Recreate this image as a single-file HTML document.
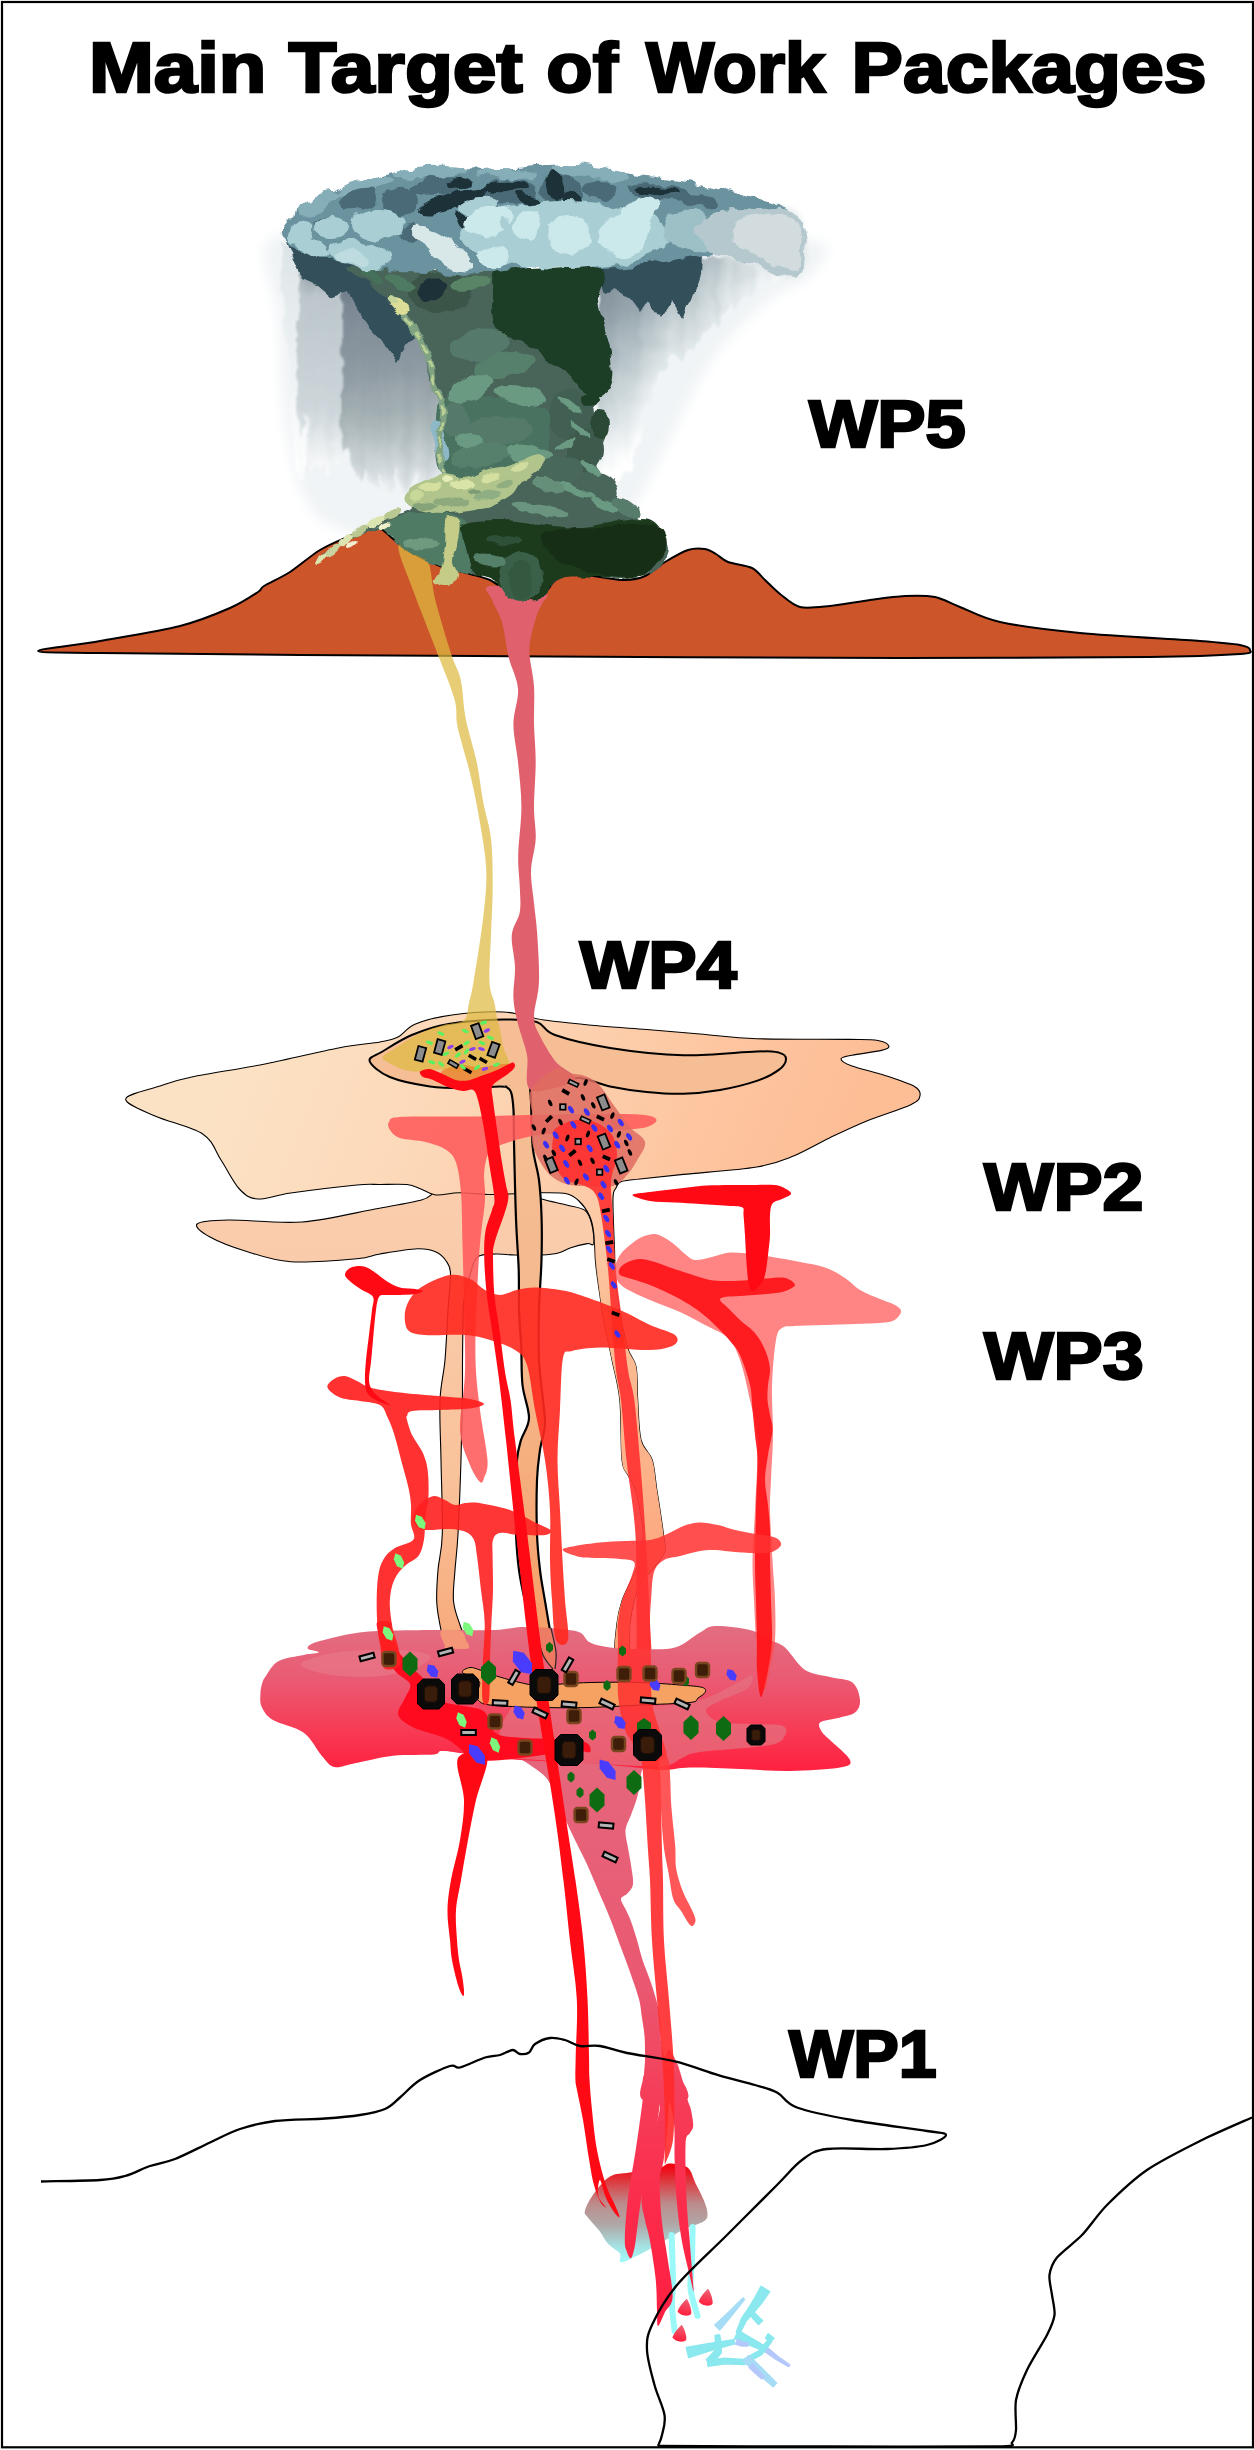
<!DOCTYPE html>
<html lang="en"><head><meta charset="utf-8"><title>Main Target of Work Packages</title>
<style>html,body{margin:0;padding:0;background:#fff}svg{display:block}</style></head>
<body><svg width="1254" height="2450" viewBox="0 0 1254 2450">
<defs>
<filter id="fRough" x="-5%" y="-5%" width="110%" height="110%"><feTurbulence type="fractalNoise" baseFrequency="0.05" numOctaves="3" seed="7" result="n"/><feDisplacementMap in="SourceGraphic" in2="n" scale="13" xChannelSelector="R" yChannelSelector="G"/></filter>
<filter id="fRough2" x="-5%" y="-5%" width="110%" height="110%"><feTurbulence type="fractalNoise" baseFrequency="0.07" numOctaves="2" seed="3" result="n"/><feDisplacementMap in="SourceGraphic" in2="n" scale="7" xChannelSelector="R" yChannelSelector="G"/></filter>
<filter id="fBlur3"><feGaussianBlur stdDeviation="3"/></filter>
<filter id="fBlur6"><feGaussianBlur stdDeviation="6"/></filter>
<filter id="fStreak" x="-10%" y="-10%" width="120%" height="120%"><feTurbulence type="fractalNoise" baseFrequency="0.09 0.004" numOctaves="2" seed="11" result="n"/><feDisplacementMap in="SourceGraphic" in2="n" scale="26" xChannelSelector="R" yChannelSelector="G" result="d1"/><feTurbulence type="fractalNoise" baseFrequency="0.03 0.05" numOctaves="2" seed="5" result="n2"/><feDisplacementMap in="d1" in2="n2" scale="12" xChannelSelector="R" yChannelSelector="G"/><feGaussianBlur stdDeviation="1"/></filter>
<linearGradient id="gVeilL" gradientUnits="userSpaceOnUse" x1="0" y1="262" x2="0" y2="500">
<stop offset="0" stop-color="#5F727E"/><stop offset="0.18" stop-color="#7C8995"/><stop offset="0.45" stop-color="#8E9AA2"/><stop offset="0.68" stop-color="#AAB6B8"/><stop offset="0.88" stop-color="#D2DADE"/><stop offset="1" stop-color="#FFFFFF"/></linearGradient>
<linearGradient id="gVeilA" gradientUnits="userSpaceOnUse" x1="0" y1="245" x2="0" y2="480">
<stop offset="0" stop-color="#DDE4E7"/><stop offset="0.5" stop-color="#EDF1F3"/><stop offset="1" stop-color="#FFFFFF"/></linearGradient>
<linearGradient id="gVeilB" gradientUnits="userSpaceOnUse" x1="0" y1="250" x2="0" y2="475">
<stop offset="0" stop-color="#7A8892"/><stop offset="0.2" stop-color="#BCC6CB"/><stop offset="0.7" stop-color="#CDD6DA"/><stop offset="1" stop-color="#FFFFFF"/></linearGradient>
<linearGradient id="gVeilR" gradientUnits="userSpaceOnUse" x1="600" y1="268" x2="708" y2="367">
<stop offset="0" stop-color="#76848F"/><stop offset="0.35" stop-color="#98A6AE"/><stop offset="0.6" stop-color="#BECACE"/><stop offset="0.85" stop-color="#E6ECEE"/><stop offset="1" stop-color="#FFFFFF"/></linearGradient>
<linearGradient id="gCapR" gradientUnits="userSpaceOnUse" x1="700" y1="0" x2="810" y2="0">
<stop offset="0" stop-color="#A4BCC3"/><stop offset="0.5" stop-color="#C6D3D6"/><stop offset="1" stop-color="#E4EAEB"/></linearGradient>
<linearGradient id="gPeach" gradientUnits="userSpaceOnUse" x1="250" y1="1020" x2="800" y2="1240">
<stop offset="0" stop-color="#FCE2C5"/><stop offset="0.35" stop-color="#FCD8B8"/><stop offset="0.75" stop-color="#FDC6A1"/><stop offset="1" stop-color="#FDBE96"/></linearGradient>
<linearGradient id="gPeach2" gradientUnits="userSpaceOnUse" x1="250" y1="1200" x2="600" y2="1280">
<stop offset="0" stop-color="#FBD6B8"/><stop offset="1" stop-color="#F9C9A4"/></linearGradient>
<linearGradient id="gPipe2" gradientUnits="userSpaceOnUse" x1="0" y1="1235" x2="0" y2="1660">
<stop offset="0" stop-color="#FBC39C" stop-opacity="0"/><stop offset="0.15" stop-color="#FBBF96"/><stop offset="0.6" stop-color="#FCB088"/><stop offset="1" stop-color="#FA9C70"/></linearGradient>
<linearGradient id="gPipeC" gradientUnits="userSpaceOnUse" x1="0" y1="1100" x2="0" y2="1620">
<stop offset="0" stop-color="#F5BE94"/><stop offset="0.5" stop-color="#F5B88C"/><stop offset="1" stop-color="#F6A06A"/></linearGradient>
<linearGradient id="gPipeE" gradientUnits="userSpaceOnUse" x1="0" y1="1200" x2="0" y2="1660">
<stop offset="0" stop-color="#FACDAC"/><stop offset="0.15" stop-color="#F9CBAA"/><stop offset="0.6" stop-color="#F9C29A"/><stop offset="1" stop-color="#F7A878"/></linearGradient>
<linearGradient id="gCh" gradientUnits="userSpaceOnUse" x1="0" y1="1630" x2="0" y2="1775">
<stop offset="0" stop-color="#E36C80"/><stop offset="0.35" stop-color="#EA5A72"/><stop offset="0.7" stop-color="#F83A55"/><stop offset="1" stop-color="#FF1E3C"/></linearGradient>
<linearGradient id="gTail" gradientUnits="userSpaceOnUse" x1="0" y1="1760" x2="0" y2="2330">
<stop offset="0" stop-color="#E5667C"/><stop offset="0.4" stop-color="#EA5870"/><stop offset="0.6" stop-color="#F63C58"/><stop offset="0.8" stop-color="#FC2A4A"/><stop offset="1" stop-color="#FF1E40"/></linearGradient>
<linearGradient id="gSrc" gradientUnits="userSpaceOnUse" x1="0" y1="2165" x2="0" y2="2262">
<stop offset="0" stop-color="#F2000C"/><stop offset="0.12" stop-color="#E42830"/><stop offset="0.4" stop-color="#BC8C8C"/><stop offset="0.62" stop-color="#B0A8A8"/><stop offset="0.85" stop-color="#A4E4E4"/><stop offset="1" stop-color="#A0F8F8"/></linearGradient>
<linearGradient id="gDrop" x1="0" y1="0" x2="0" y2="1"><stop offset="0" stop-color="#EC6478"/><stop offset="1" stop-color="#FF1E3C"/></linearGradient>
</defs>
<rect x="0" y="0" width="1254" height="2450" fill="#fff"/>
<path d="M276.0,236.0C304.7,227.7 421.0,222.7 450.0,270.0C479.0,317.3 458.3,475.8 450.0,520.0C441.7,564.2 418.3,533.3 400.0,535.0C381.7,536.7 355.8,535.8 340.0,530.0C324.2,524.2 314.3,518.3 305.0,500.0C295.7,481.7 288.5,450.0 284.0,420.0C279.5,390.0 279.3,350.7 278.0,320.0C276.7,289.3 247.3,244.3 276.0,236.0Z" fill="#F1F4F6" filter="url(#fBlur6)"/>
<path d="M596.0,262.0C630.3,218.7 774.0,237.8 810.0,240.0C846.0,242.2 818.7,265.0 812.0,275.0C805.3,285.0 785.3,287.5 770.0,300.0C754.7,312.5 733.3,333.3 720.0,350.0C706.7,366.7 700.0,381.7 690.0,400.0C680.0,418.3 670.0,441.7 660.0,460.0C650.0,478.3 639.3,503.3 630.0,510.0C620.7,516.7 609.7,541.3 604.0,500.0C598.3,458.7 561.7,305.3 596.0,262.0Z" fill="#F1F4F6" filter="url(#fBlur6)"/>
<path d="M280.0,240.0L304.0,248.0L304.0,300.0L303.0,380.0L302.0,440.0L300.0,480.0L294.0,470.0L290.0,430.0L286.0,380.0L283.0,320.0L281.0,270.0Z" fill="url(#gVeilA)" filter="url(#fStreak)"/>
<path d="M300.0,248.0L348.0,262.0L348.0,330.0L346.0,400.0L344.0,440.0L338.0,470.0L330.0,455.0L324.0,475.0L316.0,460.0L310.0,470.0L304.0,450.0L300.0,400.0L300.0,300.0Z" fill="url(#gVeilB)" filter="url(#fStreak)"/>
<path d="M344.0,260.0L400.0,270.0L446.0,275.0L446.0,330.0L442.0,400.0L446.0,470.0L440.0,492.0L430.0,485.0L422.0,500.0L412.0,480.0L404.0,498.0L396.0,470.0L388.0,495.0L380.0,470.0L372.0,488.0L364.0,465.0L356.0,480.0L350.0,460.0L344.0,440.0L344.0,350.0Z" fill="url(#gVeilL)" filter="url(#fStreak)"/>
<path d="M598.0,266.0L700.0,256.0L800.0,262.0L790.0,276.0L760.0,288.0L735.0,305.0L715.0,322.0L700.0,338.0L688.0,352.0L672.0,368.0L660.0,385.0L650.0,410.0L640.0,436.0L628.0,462.0L612.0,484.0L600.0,480.0L598.0,400.0Z" fill="url(#gVeilR)" filter="url(#fStreak)"/>
<path d="M38.0,651.0C38.0,649.2 78.7,644.8 100.0,641.0C121.3,637.2 160.5,631.0 180.0,626.0C199.5,621.0 218.3,613.1 230.0,608.0C241.7,602.9 252.9,595.3 258.0,592.0C263.1,588.7 259.2,589.0 264.0,586.0C268.8,583.0 281.6,577.4 290.0,572.0C298.4,566.6 311.0,555.4 320.0,550.0C329.0,544.6 342.5,539.1 350.0,536.0C357.5,532.9 365.5,530.2 370.0,529.0C374.5,527.8 376.7,526.6 380.0,528.0C383.3,529.4 387.5,534.4 392.0,538.0C396.5,541.6 402.8,547.8 410.0,552.0C417.2,556.2 431.0,562.7 440.0,566.0C449.0,569.3 462.5,571.9 470.0,574.0C477.5,576.1 484.8,577.6 490.0,580.0C495.2,582.4 500.2,587.3 505.0,590.0C509.8,592.7 517.4,596.5 522.0,598.0C526.6,599.5 532.4,600.9 536.0,600.0C539.6,599.1 543.0,595.0 546.0,592.0C549.0,589.0 551.6,582.7 556.0,580.0C560.4,577.3 568.4,574.5 575.0,574.0C581.6,573.5 592.5,576.1 600.0,577.0C607.5,577.9 618.2,580.1 625.0,580.0C631.8,579.9 639.0,578.7 645.0,576.0C651.0,573.3 658.5,565.9 665.0,562.0C671.5,558.1 682.0,552.0 688.0,550.0C694.0,548.0 700.8,548.4 705.0,549.0C709.2,549.6 712.5,552.0 716.0,554.0C719.5,556.0 722.6,559.9 728.0,562.0C733.4,564.1 746.5,565.3 752.0,568.0C757.5,570.7 760.8,576.1 765.0,580.0C769.2,583.9 774.8,590.0 780.0,594.0C785.2,598.0 792.5,605.2 800.0,607.0C807.5,608.8 819.5,607.0 830.0,606.0C840.5,605.0 858.8,601.5 870.0,600.0C881.2,598.5 895.2,596.5 905.0,596.0C914.8,595.5 926.8,595.4 935.0,597.0C943.2,598.6 950.2,603.2 960.0,607.0C969.8,610.8 982.0,618.1 1000.0,622.0C1018.0,625.9 1050.0,630.1 1080.0,633.0C1110.0,635.9 1176.0,639.2 1200.0,641.0C1224.0,642.8 1232.5,643.6 1240.0,645.0C1247.5,646.4 1250.0,648.6 1250.0,650.0C1250.0,651.4 1255.0,653.0 1240.0,654.0C1225.0,655.0 1201.0,656.4 1150.0,657.0C1099.0,657.6 976.5,658.0 900.0,658.0C823.5,658.0 730.0,657.5 640.0,657.0C550.0,656.5 381.0,655.6 300.0,655.0C219.0,654.4 139.3,653.6 100.0,653.0C60.7,652.4 38.0,652.8 38.0,651.0Z" fill="#CC552A" stroke="#000" stroke-width="2"/>
<path d="M197.2,1224.0C200.3,1221.2 211.0,1220.3 228.4,1220.0C245.8,1219.7 277.4,1223.8 301.8,1222.0C326.2,1220.2 355.1,1212.7 375.0,1209.0C394.9,1205.3 411.3,1202.8 421.5,1200.0C431.7,1197.2 429.8,1193.7 436.0,1192.0C442.2,1190.3 450.2,1190.3 458.8,1190.0C467.4,1189.7 478.5,1190.0 487.8,1190.0C497.1,1190.0 505.8,1188.5 514.8,1190.0C523.8,1191.5 533.1,1196.5 541.7,1199.0C550.3,1201.5 559.4,1203.1 566.6,1205.0C573.8,1206.9 580.8,1207.1 585.0,1210.4C589.2,1213.7 590.6,1219.5 592.0,1225.0C593.4,1230.5 594.4,1240.5 593.6,1243.6C592.8,1246.7 591.1,1242.9 587.3,1243.6C583.5,1244.3 575.6,1246.2 570.8,1247.8C566.0,1249.4 563.1,1251.8 558.3,1253.0C553.4,1254.2 549.0,1254.7 541.7,1255.0C534.5,1255.3 522.4,1255.2 514.8,1255.0C507.2,1254.8 502.2,1253.7 496.0,1254.0C489.8,1254.3 481.8,1253.5 477.5,1257.0C473.2,1260.5 472.2,1267.8 470.0,1275.0C467.8,1282.2 465.2,1292.5 464.0,1300.0C462.8,1307.5 463.2,1310.0 463.0,1320.0C462.8,1330.0 462.6,1346.7 462.5,1360.0C462.4,1373.3 462.6,1383.3 462.4,1400.0C462.1,1416.7 461.7,1437.7 461.0,1460.0C460.3,1482.3 459.0,1515.7 458.0,1534.0C457.0,1552.3 455.8,1558.8 455.0,1570.0C454.2,1581.2 452.7,1591.8 453.5,1601.0C454.3,1610.2 457.6,1617.7 460.0,1625.0C462.4,1632.3 466.3,1638.8 468.0,1645.0C469.7,1651.2 473.5,1659.2 470.0,1662.0C466.5,1664.8 451.2,1664.8 447.0,1662.0C442.8,1659.2 445.8,1651.2 444.6,1645.0C443.4,1638.8 441.3,1632.3 440.0,1625.0C438.7,1617.7 437.0,1610.2 436.7,1601.0C436.4,1591.8 437.1,1581.2 438.0,1570.0C438.9,1558.8 441.8,1552.3 442.3,1534.0C442.8,1515.7 441.4,1482.3 441.0,1460.0C440.6,1437.7 439.3,1416.7 440.0,1400.0C440.7,1383.3 443.7,1375.0 445.0,1360.0C446.3,1345.0 447.1,1324.4 448.0,1310.0C448.9,1295.6 450.8,1281.8 450.5,1273.7C450.2,1265.6 448.7,1264.8 446.3,1261.2C443.9,1257.6 440.8,1254.1 436.0,1252.0C431.2,1249.9 426.6,1248.5 417.3,1248.8C408.0,1249.1 390.1,1252.3 380.0,1254.0C369.9,1255.7 371.7,1257.5 356.8,1258.8C341.9,1260.1 309.2,1262.9 290.8,1261.7C272.4,1260.5 260.2,1255.6 246.7,1251.5C233.2,1247.4 218.2,1241.6 210.0,1237.0C201.8,1232.4 194.1,1226.8 197.2,1224.0Z" fill="url(#gPipeE)" stroke="#000" stroke-width="1.1"/>
<path d="M125.7,1099.0C126.5,1094.0 149.0,1089.7 160.0,1086.0C171.0,1082.3 174.2,1080.7 191.7,1077.0C209.2,1073.3 240.6,1068.8 265.0,1064.0C289.4,1059.2 319.2,1051.7 338.4,1048.0C357.6,1044.3 370.1,1043.8 380.0,1042.0C389.9,1040.2 392.1,1040.0 398.0,1037.0C403.9,1034.0 406.5,1027.7 415.5,1024.0C424.5,1020.3 437.3,1017.0 452.0,1015.0C466.7,1013.0 488.2,1011.2 503.5,1012.0C518.8,1012.8 527.9,1017.7 544.0,1020.0C560.1,1022.3 582.9,1024.4 600.0,1026.0C617.1,1027.6 630.0,1028.2 646.7,1029.5C663.4,1030.8 681.6,1032.5 700.0,1034.0C718.4,1035.5 732.0,1037.8 756.8,1038.7C781.5,1039.6 828.3,1039.1 848.5,1039.4C868.7,1039.7 871.1,1039.4 877.8,1040.5C884.5,1041.6 888.2,1044.3 888.8,1046.0C889.4,1047.7 887.6,1048.9 881.5,1050.4C875.4,1051.9 858.8,1053.8 852.0,1055.2C845.2,1056.6 841.0,1057.1 841.0,1058.9C841.0,1060.7 844.7,1063.2 852.0,1066.0C859.3,1068.8 874.6,1072.0 885.0,1075.4C895.4,1078.8 908.7,1083.1 914.5,1086.4C920.3,1089.8 920.6,1092.5 920.0,1095.5C919.4,1098.5 919.7,1100.5 910.8,1104.7C901.9,1109.0 880.3,1115.5 866.8,1121.0C853.3,1126.5 842.2,1131.9 830.0,1137.7C817.8,1143.5 805.7,1151.1 793.5,1156.0C781.3,1160.9 775.1,1163.9 756.8,1167.0C738.4,1170.1 702.9,1172.4 683.4,1174.4C663.9,1176.4 650.4,1177.8 640.0,1179.0C629.6,1180.2 625.0,1180.2 621.0,1181.7C617.0,1183.2 617.3,1185.3 616.0,1188.0C614.7,1190.7 613.3,1188.7 613.0,1198.0C612.7,1207.3 613.6,1227.8 614.3,1244.0C615.0,1260.2 614.9,1278.0 617.0,1295.0C619.1,1312.0 623.8,1334.1 627.0,1346.0C630.2,1357.9 634.2,1357.6 636.0,1366.6C637.8,1375.6 636.9,1387.8 637.7,1400.0C638.5,1412.2 638.6,1430.0 641.0,1440.0C643.4,1450.0 649.6,1451.8 652.2,1460.0C654.8,1468.2 655.4,1480.7 656.7,1489.0C658.0,1497.3 658.9,1502.5 660.0,1510.0C661.1,1517.5 662.6,1527.0 663.4,1534.0C664.1,1541.0 666.4,1546.0 664.5,1552.0C662.6,1558.0 656.1,1564.5 652.0,1569.7C647.9,1574.9 643.0,1577.8 640.0,1583.0C637.0,1588.2 635.7,1594.3 634.0,1601.0C632.3,1607.7 631.0,1613.2 630.0,1623.0C629.0,1632.8 630.5,1653.8 628.0,1660.0C625.5,1666.2 616.8,1666.2 615.0,1660.0C613.2,1653.8 615.8,1632.8 617.0,1623.0C618.2,1613.2 619.8,1607.7 622.0,1601.0C624.2,1594.3 627.0,1589.8 630.0,1583.0C633.0,1576.2 637.8,1568.2 640.0,1560.0C642.2,1551.8 643.1,1541.5 643.3,1534.0C643.5,1526.5 642.3,1522.5 641.0,1515.0C639.7,1507.5 637.6,1495.7 635.4,1489.0C633.2,1482.3 630.2,1479.8 628.0,1475.0C625.8,1470.2 623.4,1472.5 622.0,1460.0C620.6,1447.5 621.5,1416.8 619.8,1400.0C618.1,1383.2 614.4,1372.2 611.8,1359.0C609.2,1345.8 606.0,1331.5 604.0,1320.7C602.0,1309.9 601.2,1304.0 599.8,1294.4C598.4,1284.8 596.6,1273.4 595.6,1263.0C594.6,1252.6 594.6,1239.9 593.6,1232.0C592.6,1224.1 591.8,1220.8 589.4,1215.6C587.0,1210.4 582.8,1204.6 579.0,1201.0C575.2,1197.4 572.8,1195.2 566.6,1193.8C560.4,1192.4 550.3,1192.8 541.7,1192.8C533.1,1192.8 523.8,1193.5 514.8,1193.8C505.8,1194.1 497.1,1194.7 487.8,1194.5C478.5,1194.3 467.4,1192.7 458.8,1192.8C450.2,1192.9 442.3,1195.6 436.0,1195.0C429.7,1194.4 425.8,1190.8 421.0,1189.0C416.2,1187.2 413.8,1185.2 407.0,1184.5C400.2,1183.8 388.4,1184.4 380.0,1184.5C371.6,1184.6 371.7,1183.6 356.8,1185.0C341.9,1186.4 307.3,1190.7 290.8,1193.0C274.3,1195.3 266.3,1199.7 257.7,1199.0C249.1,1198.3 245.5,1195.5 239.4,1189.0C233.3,1182.5 227.1,1169.2 221.0,1160.0C214.9,1150.8 213.7,1141.3 202.7,1134.0C191.7,1126.7 167.8,1121.8 155.0,1116.0C142.2,1110.2 124.9,1104.0 125.7,1099.0Z" fill="url(#gPeach)" stroke="#000" stroke-width="1.1"/>
<path d="M614.3,1244.0C618.2,1254.5 614.9,1278.0 617.0,1295.0C619.1,1312.0 623.8,1334.1 627.0,1346.0C630.2,1357.9 634.2,1357.6 636.0,1366.6C637.8,1375.6 636.9,1387.8 637.7,1400.0C638.5,1412.2 638.6,1430.0 641.0,1440.0C643.4,1450.0 649.6,1451.8 652.2,1460.0C654.8,1468.2 655.4,1480.7 656.7,1489.0C658.0,1497.3 658.9,1502.5 660.0,1510.0C661.1,1517.5 662.6,1527.0 663.4,1534.0C664.1,1541.0 666.4,1546.0 664.5,1552.0C662.6,1558.0 656.1,1564.5 652.0,1569.7C647.9,1574.9 643.0,1577.8 640.0,1583.0C637.0,1588.2 635.7,1594.3 634.0,1601.0C632.3,1607.7 631.0,1613.2 630.0,1623.0C629.0,1632.8 630.5,1653.8 628.0,1660.0C625.5,1666.2 616.8,1666.2 615.0,1660.0C613.2,1653.8 615.8,1632.8 617.0,1623.0C618.2,1613.2 619.8,1607.7 622.0,1601.0C624.2,1594.3 627.0,1589.8 630.0,1583.0C633.0,1576.2 637.8,1568.2 640.0,1560.0C642.2,1551.8 643.1,1541.5 643.3,1534.0C643.5,1526.5 642.3,1522.5 641.0,1515.0C639.7,1507.5 637.6,1495.7 635.4,1489.0C633.2,1482.3 630.2,1479.8 628.0,1475.0C625.8,1470.2 623.4,1472.5 622.0,1460.0C620.6,1447.5 621.5,1416.8 619.8,1400.0C618.1,1383.2 614.4,1372.2 611.8,1359.0C609.2,1345.8 606.0,1331.5 604.0,1320.7C602.0,1309.9 601.2,1304.0 599.8,1294.4C598.4,1284.8 596.6,1273.4 595.6,1263.0C594.6,1252.6 590.5,1235.2 593.6,1232.0C596.7,1228.8 610.4,1233.5 614.3,1244.0Z" fill="url(#gPipe2)"/>
<path d="M369.6,1061.0C368.4,1056.8 375.5,1055.8 382.5,1051.5C389.5,1047.2 400.8,1039.6 411.8,1035.0C422.8,1030.4 433.2,1026.6 448.5,1024.0C463.8,1021.4 488.8,1019.9 503.5,1019.6C518.2,1019.3 528.1,1019.4 536.7,1022.0C545.3,1024.6 542.8,1030.7 555.0,1035.0C567.2,1039.3 588.6,1044.5 610.0,1047.9C631.4,1051.3 658.9,1054.6 683.4,1055.2C707.9,1055.8 740.9,1051.9 756.8,1051.5C772.7,1051.1 773.9,1051.4 778.8,1052.6C783.7,1053.8 786.0,1056.0 786.0,1058.9C786.0,1061.8 783.7,1066.2 778.8,1069.9C773.9,1073.6 766.6,1077.6 756.8,1080.9C747.0,1084.2 732.2,1087.9 720.0,1090.0C707.8,1092.1 695.6,1093.4 683.4,1093.7C671.2,1094.0 658.9,1093.1 646.7,1091.9C634.5,1090.7 621.1,1088.7 610.0,1086.4C598.9,1084.1 588.3,1078.7 580.0,1078.0C571.7,1077.3 566.7,1080.0 560.0,1082.0C553.3,1084.0 546.7,1089.0 540.0,1090.0C533.3,1091.0 526.7,1088.6 520.0,1088.0C513.3,1087.4 508.9,1086.4 500.0,1086.4C491.1,1086.4 478.5,1088.0 466.8,1088.0C455.1,1088.0 442.8,1088.2 430.0,1086.4C417.2,1084.6 399.9,1081.2 389.8,1077.0C379.7,1072.8 370.8,1065.2 369.6,1061.0Z" fill="#F5BE94" stroke="#000" stroke-width="2"/>
<path d="M505.0,1086.0C501.8,1086.7 509.6,1088.0 511.0,1092.0C512.4,1096.0 513.0,1101.7 513.5,1110.0C514.0,1118.3 513.6,1123.9 514.0,1142.0C514.4,1160.1 515.2,1197.3 516.0,1218.6C516.8,1239.9 518.2,1254.4 518.7,1269.6C519.2,1284.8 518.6,1297.3 519.0,1310.0C519.4,1322.7 520.6,1333.5 521.2,1346.0C521.8,1358.5 521.2,1373.0 522.5,1385.0C523.8,1397.0 529.2,1408.8 529.0,1418.0C528.8,1427.2 523.0,1433.0 521.0,1440.0C519.0,1447.0 517.8,1450.0 517.0,1460.0C516.2,1470.0 516.2,1487.7 516.0,1500.0C515.8,1512.3 515.5,1522.3 516.0,1534.0C516.5,1545.7 517.5,1558.8 519.0,1570.0C520.5,1581.2 522.7,1591.0 525.0,1601.0C527.3,1611.0 530.0,1621.0 533.0,1630.0C536.0,1639.0 539.8,1648.7 543.0,1655.0C546.2,1661.3 550.2,1665.8 552.0,1668.0C553.8,1670.2 553.5,1670.2 554.0,1668.0C554.5,1665.8 555.7,1661.3 555.0,1655.0C554.3,1648.7 551.7,1639.0 550.0,1630.0C548.3,1621.0 546.7,1611.0 545.0,1601.0C543.3,1591.0 541.3,1581.2 540.0,1570.0C538.7,1558.8 537.5,1549.0 537.0,1534.0C536.5,1519.0 536.5,1494.0 537.0,1480.0C537.5,1466.0 538.7,1459.2 540.0,1450.0C541.3,1440.8 544.5,1433.3 545.0,1425.0C545.5,1416.7 544.0,1410.8 543.0,1400.0C542.0,1389.2 539.7,1375.0 539.0,1360.0C538.3,1345.0 538.6,1326.7 539.0,1310.0C539.4,1293.3 541.1,1275.2 541.5,1260.0C541.9,1244.8 542.0,1231.9 541.6,1218.6C541.2,1205.3 540.5,1191.9 539.0,1180.0C537.5,1168.1 534.0,1160.2 532.7,1147.0C531.4,1133.8 531.5,1110.8 531.0,1101.0C530.5,1091.2 534.3,1090.5 530.0,1088.0C525.7,1085.5 508.2,1085.3 505.0,1086.0Z" fill="url(#gPipeC)"/>
<path d="M505.0,1086.0C506.0,1087.0 509.6,1088.0 511.0,1092.0C512.4,1096.0 513.0,1101.7 513.5,1110.0C514.0,1118.3 513.6,1123.9 514.0,1142.0C514.4,1160.1 515.2,1197.3 516.0,1218.6C516.8,1239.9 518.2,1254.4 518.7,1269.6C519.2,1284.8 518.6,1297.3 519.0,1310.0C519.4,1322.7 520.6,1333.5 521.2,1346.0C521.8,1358.5 521.2,1373.0 522.5,1385.0C523.8,1397.0 529.2,1408.8 529.0,1418.0C528.8,1427.2 523.0,1433.0 521.0,1440.0C519.0,1447.0 517.8,1450.0 517.0,1460.0C516.2,1470.0 516.2,1487.7 516.0,1500.0C515.8,1512.3 515.5,1522.3 516.0,1534.0C516.5,1545.7 517.5,1558.8 519.0,1570.0C520.5,1581.2 522.7,1591.0 525.0,1601.0C527.3,1611.0 530.0,1621.0 533.0,1630.0C536.0,1639.0 539.8,1648.7 543.0,1655.0C546.2,1661.3 550.5,1665.8 552.0,1668.0" fill="none" stroke="#000" stroke-width="2.2"/>
<path d="M530.0,1088.0C530.2,1090.2 530.5,1091.2 531.0,1101.0C531.5,1110.8 531.4,1133.8 532.7,1147.0C534.0,1160.2 537.5,1168.1 539.0,1180.0C540.5,1191.9 541.2,1205.3 541.6,1218.6C542.0,1231.9 541.9,1244.8 541.5,1260.0C541.1,1275.2 539.4,1293.3 539.0,1310.0C538.6,1326.7 538.3,1345.0 539.0,1360.0C539.7,1375.0 542.0,1389.2 543.0,1400.0C544.0,1410.8 545.5,1416.7 545.0,1425.0C544.5,1433.3 541.3,1440.8 540.0,1450.0C538.7,1459.2 537.5,1466.0 537.0,1480.0C536.5,1494.0 536.5,1519.0 537.0,1534.0C537.5,1549.0 538.7,1558.8 540.0,1570.0C541.3,1581.2 543.3,1591.0 545.0,1601.0C546.7,1611.0 548.3,1621.0 550.0,1630.0C551.7,1639.0 554.3,1648.7 555.0,1655.0C555.7,1661.3 554.2,1665.8 554.0,1668.0" fill="none" stroke="#000" stroke-width="2.2"/>
<path d="M400.0,1117.0C412.5,1116.1 442.5,1116.8 463.8,1116.5C485.1,1116.2 504.2,1115.4 527.6,1115.0C551.0,1114.6 584.4,1114.0 604.0,1114.0C623.6,1114.0 636.3,1113.9 645.0,1115.0C653.7,1116.1 656.8,1118.2 656.4,1120.4C656.0,1122.6 651.1,1126.3 642.4,1128.0C633.7,1129.7 617.7,1129.8 604.0,1130.6C590.3,1131.4 572.7,1131.9 560.0,1133.0C547.3,1134.1 537.3,1135.1 527.6,1137.0C517.9,1138.9 508.4,1142.1 502.0,1144.6C495.6,1147.1 492.3,1147.3 489.3,1152.0C486.3,1156.7 484.9,1164.7 484.2,1172.7C483.5,1180.7 485.7,1188.1 485.0,1200.0C484.3,1211.9 481.3,1228.2 480.0,1244.0C478.7,1259.8 477.8,1275.7 477.0,1295.0C476.2,1314.3 475.0,1340.8 475.5,1360.0C476.0,1379.2 478.0,1393.3 480.0,1410.0C482.0,1426.7 486.8,1448.7 487.5,1460.0C488.2,1471.3 485.2,1474.3 484.0,1478.0C482.8,1481.7 482.3,1484.2 480.0,1482.0C477.7,1479.8 473.3,1473.7 470.0,1465.0C466.7,1456.3 460.8,1445.5 460.0,1430.0C459.2,1414.5 464.4,1394.5 465.0,1372.0C465.6,1349.5 464.2,1316.3 463.8,1295.0C463.4,1273.7 463.0,1261.0 462.5,1244.0C462.0,1227.0 462.1,1206.6 461.0,1193.0C459.9,1179.4 458.5,1169.7 456.0,1162.5C453.5,1155.3 451.1,1153.1 446.0,1149.7C440.9,1146.3 433.2,1144.0 425.5,1142.0C417.8,1140.0 405.9,1140.0 400.0,1138.0C394.1,1136.0 391.8,1132.7 390.0,1130.0C388.2,1127.3 387.3,1124.2 389.0,1122.0C390.7,1119.8 387.5,1117.9 400.0,1117.0Z" fill="#FF5A5A" opacity="0.88"/>
<path d="M398.6,545.0C396.5,550.8 406.9,572.8 413.0,590.0C419.1,607.2 428.4,629.8 435.3,648.0C442.2,666.2 450.7,685.8 454.4,699.0C458.1,712.2 454.9,714.3 457.6,727.0C460.3,739.7 466.7,759.0 470.4,775.0C474.1,791.0 477.4,807.0 480.0,823.0C482.6,839.0 485.8,855.0 486.3,871.0C486.8,887.0 485.1,900.5 483.0,919.0C480.9,937.5 475.8,968.0 473.5,982.0C471.2,996.0 470.6,996.6 469.0,1003.0C467.4,1009.4 468.2,1016.6 464.0,1020.3C459.8,1024.0 451.1,1022.9 443.7,1025.1C436.3,1027.3 427.8,1029.7 419.8,1033.5C411.8,1037.3 402.1,1043.9 395.9,1047.8C389.7,1051.7 383.9,1054.4 382.7,1056.9C381.5,1059.4 385.3,1060.6 388.7,1062.7C392.1,1064.8 397.9,1067.9 403.1,1069.4C408.3,1070.9 413.8,1071.8 419.8,1071.8C425.8,1071.8 432.9,1069.4 438.9,1069.4C444.9,1069.4 449.7,1071.4 455.7,1071.8C461.7,1072.2 468.4,1073.1 474.8,1071.8C481.2,1070.5 489.2,1065.0 494.0,1064.1C498.8,1063.2 500.9,1066.6 503.5,1066.5C506.1,1066.4 509.5,1066.5 509.5,1063.4C509.5,1060.3 505.1,1053.6 503.5,1047.8C501.9,1042.0 501.0,1033.7 499.9,1028.7C498.8,1023.7 497.9,1022.3 497.0,1018.0C496.1,1013.7 495.8,1009.0 494.5,1003.0C493.2,997.0 490.1,993.3 489.5,982.0C488.9,970.7 490.5,950.8 491.0,935.0C491.5,919.2 492.7,903.0 492.7,887.0C492.7,871.0 492.6,853.3 491.0,839.0C489.4,824.7 485.4,813.8 483.0,801.0C480.6,788.2 479.6,775.8 476.7,762.0C473.8,748.2 468.2,731.7 465.6,718.0C463.0,704.3 463.2,690.7 460.8,680.0C458.4,669.3 455.4,667.3 451.2,654.0C446.9,640.7 439.6,616.5 435.3,600.0C431.1,583.5 431.8,564.2 425.7,555.0C419.6,545.8 400.7,539.2 398.6,545.0Z" fill="#DEBA41" opacity="0.72"/>
<path d="M441.3,1071.8C442.5,1070.0 447.7,1068.2 450.9,1067.0C454.1,1065.8 455.7,1064.5 460.5,1064.6C465.3,1064.7 474.0,1067.4 479.6,1067.5C485.2,1067.6 489.2,1065.7 494.0,1065.1C498.8,1064.5 506.7,1063.0 508.3,1064.1C509.9,1065.2 505.9,1069.6 503.5,1071.8C501.1,1074.0 498.8,1075.3 494.0,1077.0C489.2,1078.7 481.2,1081.0 474.8,1081.8C468.4,1082.6 460.9,1082.5 455.7,1081.8C450.5,1081.1 446.1,1079.5 443.7,1077.8C441.3,1076.1 440.1,1073.6 441.3,1071.8Z" fill="#E8842E" opacity="0.8"/>
<path d="M489.5,586.0C480.9,587.3 489.9,594.0 492.0,600.0C494.1,606.0 499.2,612.5 502.0,622.0C504.8,631.5 505.9,645.8 508.6,657.0C511.3,668.2 517.2,677.8 518.0,689.0C518.8,700.2 513.4,711.8 513.4,724.0C513.4,736.2 516.7,748.2 518.0,762.0C519.3,775.8 521.4,791.5 521.4,807.0C521.4,822.5 518.5,841.7 518.2,855.0C517.9,868.3 519.5,877.5 519.8,887.0C520.1,896.5 521.1,904.0 519.8,912.0C518.5,920.0 512.6,925.8 511.8,935.0C511.0,944.2 514.7,956.5 515.0,967.0C515.3,977.5 512.9,988.5 513.4,998.0C513.9,1007.5 515.7,1014.5 518.0,1024.0C520.3,1033.5 524.8,1044.0 527.0,1055.0C529.2,1066.0 523.0,1085.8 531.0,1090.0C539.0,1094.2 570.8,1084.7 575.0,1080.0C579.2,1075.3 561.8,1069.2 556.0,1062.0C550.2,1054.8 544.2,1044.5 540.5,1037.0C536.8,1029.5 534.2,1026.2 534.0,1017.0C533.8,1007.8 538.5,995.7 539.0,982.0C539.5,968.3 538.1,948.2 537.3,935.0C536.5,921.8 535.0,913.7 534.0,903.0C533.0,892.3 530.7,881.7 531.0,871.0C531.3,860.3 535.2,849.7 535.7,839.0C536.2,828.3 534.0,819.8 534.0,807.0C534.0,794.2 535.7,775.8 535.7,762.0C535.7,748.2 534.3,736.7 534.0,724.0C533.7,711.3 534.8,698.7 534.0,686.0C533.2,673.3 528.9,659.8 529.4,648.0C529.9,636.2 534.9,622.3 537.0,615.0C539.1,607.7 540.9,607.8 542.0,604.0C543.1,600.2 552.5,595.0 543.7,592.0C535.0,589.0 498.1,584.7 489.5,586.0Z" fill="#E0606E"/>
<path d="M531.0,1090.0C527.1,1098.1 532.6,1109.1 532.7,1116.5C532.8,1123.9 531.0,1128.5 531.4,1134.4C531.8,1140.3 532.2,1145.6 535.0,1152.0C537.8,1158.4 542.9,1167.4 548.0,1172.7C553.1,1178.0 558.2,1181.7 565.9,1184.0C573.6,1186.3 585.9,1186.3 594.0,1186.5C602.1,1186.7 608.8,1187.3 614.3,1185.4C619.8,1183.5 623.2,1179.2 627.0,1175.0C630.8,1170.8 634.3,1165.5 637.3,1160.0C640.3,1154.5 646.3,1147.5 645.0,1142.0C643.7,1136.5 634.8,1132.8 629.7,1126.8C624.6,1120.8 619.4,1113.0 614.3,1106.0C609.2,1099.0 603.9,1089.7 599.0,1084.7C594.1,1079.7 590.1,1078.0 585.0,1076.0C579.9,1074.0 573.2,1074.3 568.4,1073.0C563.6,1071.7 562.2,1065.2 556.0,1068.0C549.8,1070.8 534.9,1081.9 531.0,1090.0Z" fill="#DE6C60" opacity="0.85"/>
<path d="M553.0,1138.0C553.5,1133.2 552.6,1130.9 556.0,1128.0C559.4,1125.1 567.2,1121.5 573.5,1120.4C579.8,1119.4 587.6,1119.4 594.0,1121.7C600.4,1124.0 608.0,1128.9 611.8,1134.4C615.6,1140.0 617.0,1148.2 617.0,1155.0C617.0,1161.8 613.0,1169.2 612.0,1175.0C611.0,1180.8 610.8,1182.8 611.0,1190.0C611.2,1197.2 612.2,1204.8 613.0,1218.0C613.8,1231.2 614.1,1252.0 615.6,1269.0C617.1,1286.0 619.9,1303.2 622.0,1320.0C624.1,1336.8 626.0,1356.7 628.0,1370.0C630.0,1383.3 632.3,1385.0 634.3,1400.0C636.3,1415.0 638.1,1437.7 640.0,1460.0C641.9,1482.3 643.8,1506.8 645.5,1534.0C647.2,1561.2 648.9,1597.0 650.0,1623.0C651.1,1649.0 654.0,1678.8 652.0,1690.0C650.0,1701.2 640.6,1701.2 638.0,1690.0C635.4,1678.8 637.0,1649.0 636.6,1623.0C636.2,1597.0 637.1,1561.2 635.4,1534.0C633.7,1506.8 628.9,1482.3 626.5,1460.0C624.1,1437.7 622.8,1415.0 621.0,1400.0C619.2,1385.0 617.5,1383.2 616.0,1370.0C614.5,1356.8 613.1,1337.5 611.8,1320.7C610.5,1303.9 609.7,1286.1 608.0,1269.0C606.3,1251.9 603.6,1230.3 601.6,1218.0C599.6,1205.7 598.8,1200.3 596.0,1195.0C593.2,1189.7 590.5,1188.8 585.0,1186.0C579.5,1183.2 568.3,1182.8 563.0,1178.0C557.7,1173.2 554.7,1163.7 553.0,1157.0C551.3,1150.3 552.5,1142.8 553.0,1138.0Z" fill="#FF3030" opacity="0.9"/>
<path d="M505.0,1752.0C479.4,1752.6 510.2,1753.5 514.4,1755.7C518.6,1757.9 524.6,1761.2 530.0,1765.0C535.4,1768.8 542.7,1773.4 547.0,1778.7C551.3,1784.0 553.1,1790.6 556.0,1797.0C558.9,1803.4 561.0,1809.8 564.2,1817.0C567.4,1824.2 571.2,1832.0 575.0,1840.0C578.8,1848.0 583.4,1856.5 587.2,1864.8C591.0,1873.1 594.2,1881.1 598.0,1890.0C601.8,1898.9 606.4,1909.2 610.1,1918.4C613.8,1927.6 616.8,1936.4 620.0,1945.0C623.2,1953.6 626.1,1961.0 629.3,1970.0C632.4,1979.0 636.8,1990.8 638.9,1998.8C641.0,2006.8 641.0,2011.6 642.0,2018.0C643.0,2024.4 644.1,2030.0 644.6,2037.0C645.1,2044.0 645.1,2053.7 645.0,2060.0C644.9,2066.3 644.3,2068.3 644.0,2075.0C643.7,2081.7 636.0,2095.8 643.0,2100.0C650.0,2104.2 679.5,2103.3 686.0,2100.0C692.5,2096.7 684.4,2085.0 682.0,2080.0C679.6,2075.0 674.8,2075.6 671.4,2070.0C668.0,2064.4 663.7,2055.4 661.8,2046.7C659.9,2038.0 661.0,2026.0 660.0,2018.0C659.0,2010.0 657.7,2005.3 656.0,1999.0C654.3,1992.7 652.2,1986.4 650.0,1980.0C647.8,1973.6 644.9,1967.2 642.7,1960.5C640.5,1953.8 638.9,1946.4 637.0,1940.0C635.1,1933.6 633.0,1927.0 631.2,1922.0C629.4,1917.0 627.7,1913.8 626.0,1910.0C624.3,1906.2 620.8,1901.8 621.0,1899.0C621.2,1896.2 625.4,1896.0 627.4,1893.5C629.4,1891.0 632.4,1888.8 633.0,1884.0C633.6,1879.2 631.8,1871.0 631.0,1865.0C630.2,1859.0 628.9,1853.8 628.0,1848.0C627.1,1842.2 625.0,1835.5 625.5,1830.0C626.0,1824.5 629.1,1820.3 631.0,1815.0C632.9,1809.7 635.5,1803.2 637.0,1798.0C638.5,1792.8 639.0,1788.8 640.0,1784.0C641.0,1779.2 640.2,1772.7 642.7,1769.0C645.2,1765.3 650.8,1764.8 655.0,1762.0C659.2,1759.2 693.0,1753.7 668.0,1752.0C643.0,1750.3 530.6,1751.4 505.0,1752.0Z" fill="url(#gTail)"/>
<path d="M260.4,1694.4C260.4,1690.6 261.1,1687.0 262.0,1684.0C262.9,1681.0 262.8,1680.3 265.5,1676.5C268.2,1672.7 271.9,1664.8 278.3,1661.2C284.7,1657.6 297.0,1656.4 303.8,1654.9C310.6,1653.4 318.4,1653.4 319.0,1652.3C319.6,1651.2 308.0,1650.2 307.6,1648.5C307.2,1646.8 308.6,1644.5 316.5,1642.0C324.4,1639.5 342.1,1635.1 354.8,1633.2C367.6,1631.3 378.1,1631.1 393.0,1630.6C407.9,1630.1 427.0,1630.1 444.0,1630.0C461.0,1629.9 482.2,1630.5 495.0,1630.0C507.8,1629.5 512.4,1627.3 520.7,1627.0C529.0,1626.7 538.5,1627.7 545.0,1628.0C551.5,1628.3 554.2,1628.2 560.0,1629.0C565.8,1629.8 575.0,1630.2 580.0,1632.5C585.0,1634.8 585.0,1640.0 590.0,1642.5C595.0,1645.0 601.7,1646.4 610.0,1647.5C618.3,1648.6 629.2,1649.0 640.0,1649.0C650.8,1649.0 665.0,1650.2 675.0,1647.5C685.0,1644.8 693.3,1636.1 700.0,1632.5C706.7,1628.9 706.7,1626.4 715.0,1626.0C723.3,1625.6 740.8,1627.7 750.0,1630.0C759.2,1632.3 764.2,1637.1 770.0,1640.0C775.8,1642.9 779.2,1642.5 785.0,1647.5C790.8,1652.5 797.5,1665.1 805.0,1670.0C812.5,1674.9 822.1,1674.9 830.0,1677.0C837.9,1679.1 847.5,1678.7 852.5,1682.5C857.5,1686.3 859.6,1695.0 860.0,1700.0C860.4,1705.0 858.7,1709.5 855.0,1712.5C851.3,1715.5 843.8,1716.3 838.0,1718.0C832.2,1719.7 822.7,1720.2 820.0,1722.5C817.3,1724.8 820.3,1729.1 822.0,1732.0C823.7,1734.9 825.3,1735.3 830.0,1740.0C834.7,1744.7 848.3,1755.4 850.0,1760.0C851.7,1764.6 850.0,1765.7 840.0,1767.5C830.0,1769.3 806.7,1770.8 790.0,1771.0C773.3,1771.2 756.7,1769.6 740.0,1769.0C723.3,1768.4 702.5,1767.3 690.0,1767.5C677.5,1767.7 673.3,1769.9 665.0,1770.0C656.7,1770.1 650.8,1769.0 640.0,1768.0C629.2,1767.0 613.3,1765.0 600.0,1764.0C586.7,1763.0 573.3,1762.7 560.0,1762.0C546.7,1761.3 531.7,1760.8 520.0,1760.0C508.3,1759.2 502.7,1759.0 490.0,1757.5C477.3,1756.0 453.3,1751.5 444.0,1751.0C434.7,1750.5 442.5,1753.6 434.0,1754.4C425.5,1755.2 406.2,1754.2 393.0,1755.7C379.8,1757.2 364.6,1761.4 354.8,1763.3C345.0,1765.2 339.9,1768.3 334.4,1767.0C328.9,1765.7 326.8,1761.4 321.7,1755.7C316.6,1750.0 311.9,1738.7 303.8,1732.7C295.7,1726.8 280.0,1724.3 273.0,1720.0C266.0,1715.7 263.8,1711.3 261.7,1707.0C259.6,1702.7 260.3,1698.2 260.4,1694.4Z" fill="url(#gCh)"/>
<path d="M520.0,1700.0C530.0,1693.3 546.7,1690.0 560.0,1690.0C573.3,1690.0 585.0,1697.3 600.0,1700.0C615.0,1702.7 633.3,1706.0 650.0,1706.0C666.7,1706.0 685.8,1703.7 700.0,1700.0C714.2,1696.3 726.3,1688.2 735.0,1684.0C743.7,1679.8 749.8,1674.3 752.0,1675.0C754.2,1675.7 753.0,1683.8 748.0,1688.0C743.0,1692.2 729.0,1696.3 722.0,1700.0C715.0,1703.7 706.3,1706.3 706.0,1710.0C705.7,1713.7 711.0,1719.7 720.0,1722.0C729.0,1724.3 749.5,1723.3 760.0,1724.0C770.5,1724.7 778.8,1724.2 783.0,1726.0C787.2,1727.8 787.2,1731.8 785.0,1735.0C782.8,1738.2 784.2,1742.2 770.0,1745.0C755.8,1747.8 714.7,1749.8 700.0,1752.0C685.3,1754.2 688.3,1755.7 682.0,1758.0C675.7,1760.3 675.7,1765.0 662.0,1766.0C648.3,1767.0 620.3,1765.0 600.0,1764.0C579.7,1763.0 555.8,1761.5 540.0,1760.0C524.2,1758.5 511.7,1760.0 505.0,1755.0C498.3,1750.0 497.5,1739.2 500.0,1730.0C502.5,1720.8 510.0,1706.7 520.0,1700.0Z" fill="#E4707F" opacity="0.75"/>
<path d="M303.0,1662.0C308.0,1659.0 323.8,1654.0 340.0,1652.0C356.2,1650.0 385.0,1649.3 400.0,1650.0C415.0,1650.7 427.5,1653.0 430.0,1656.0C432.5,1659.0 423.3,1664.7 415.0,1668.0C406.7,1671.3 392.5,1674.7 380.0,1676.0C367.5,1677.3 351.7,1677.0 340.0,1676.0C328.3,1675.0 316.2,1672.3 310.0,1670.0C303.8,1667.7 298.0,1665.0 303.0,1662.0Z" fill="#E87C8B" opacity="0.6"/>
<path d="M441.0,1631.0C438.3,1633.3 443.8,1642.2 444.6,1645.0C445.4,1647.8 442.1,1647.4 446.0,1648.0C449.9,1648.6 464.7,1649.8 468.0,1648.5C471.3,1647.2 467.2,1642.9 466.0,1640.0C464.8,1637.1 465.2,1632.5 461.0,1631.0C456.8,1629.5 443.7,1628.7 441.0,1631.0Z" fill="#F7A276" opacity="0.8"/>
<path d="M536.0,1630.0C534.7,1634.2 540.3,1648.7 543.0,1655.0C545.7,1661.3 550.0,1665.8 552.0,1668.0C554.0,1670.2 554.3,1670.2 555.0,1668.0C555.7,1665.8 556.7,1661.3 556.0,1655.0C555.3,1648.7 554.3,1634.2 551.0,1630.0C547.7,1625.8 537.3,1625.8 536.0,1630.0Z" fill="#F58A50" opacity="0.55"/>
<path d="M535.0,1628.0C536.3,1632.5 540.0,1648.2 543.0,1655.0C546.0,1661.8 551.3,1666.7 553.0,1669.0" fill="none" stroke="#1a1a1a" stroke-width="1.3" opacity="0.85"/>
<path d="M551.0,1628.0C551.8,1632.0 555.3,1645.2 556.0,1652.0C556.7,1658.8 555.2,1666.2 555.0,1669.0" fill="none" stroke="#1a1a1a" stroke-width="1.3" opacity="0.85"/>
<path d="M377.8,1622.0C375.7,1623.4 376.9,1625.8 377.8,1630.6C378.7,1635.4 380.0,1644.2 383.0,1651.0C386.0,1657.8 391.1,1665.9 395.6,1671.4C400.1,1676.9 408.4,1679.6 410.0,1684.0C411.6,1688.4 407.0,1692.9 405.0,1698.0C403.0,1703.1 396.8,1709.9 398.2,1714.8C399.6,1719.7 405.9,1723.8 413.5,1727.6C421.1,1731.4 436.4,1734.4 444.0,1737.8C451.6,1741.2 455.1,1744.6 459.4,1748.0C463.7,1751.4 464.9,1755.9 470.0,1758.0C475.1,1760.1 481.6,1760.7 490.0,1760.7C498.4,1760.7 509.6,1759.3 520.7,1758.0C531.8,1756.7 547.4,1754.3 556.4,1753.0C565.4,1751.7 569.4,1750.2 575.0,1750.0C580.6,1749.8 588.3,1753.3 590.0,1752.0C591.7,1750.7 590.6,1744.2 585.0,1742.0C579.4,1739.8 567.1,1739.7 556.4,1739.0C545.7,1738.3 530.9,1738.8 520.7,1737.8C510.5,1736.8 500.9,1737.0 495.0,1732.7C489.1,1728.5 489.2,1716.6 485.0,1712.3C480.8,1708.0 476.4,1708.7 469.6,1707.0C462.8,1705.3 450.6,1704.8 444.0,1702.0C437.4,1699.2 433.4,1693.8 430.0,1690.0C426.6,1686.2 426.4,1682.5 423.7,1679.0C420.9,1675.5 417.8,1673.7 413.5,1669.0C409.2,1664.3 401.8,1657.4 398.2,1651.0C394.6,1644.6 393.1,1635.4 391.8,1630.6C390.5,1625.8 392.8,1623.4 390.5,1622.0C388.2,1620.6 379.9,1620.6 377.8,1622.0Z" fill="#FF0A1E"/>
<path d="M458.0,1758.0C454.2,1765.3 463.7,1786.3 464.0,1800.0C464.3,1813.7 462.2,1826.7 460.0,1840.0C457.8,1853.3 453.1,1868.3 451.0,1880.0C448.9,1891.7 447.7,1900.0 447.5,1910.0C447.3,1920.0 449.2,1931.7 450.0,1940.0C450.8,1948.3 450.7,1952.5 452.0,1960.0C453.3,1967.5 456.2,1979.0 458.0,1985.0C459.8,1991.0 462.0,1995.2 463.0,1996.0C464.0,1996.8 464.2,1993.5 464.0,1990.0C463.8,1986.5 462.8,1980.0 462.0,1975.0C461.2,1970.0 459.8,1965.8 459.0,1960.0C458.2,1954.2 457.5,1948.3 457.0,1940.0C456.5,1931.7 455.3,1920.0 456.0,1910.0C456.7,1900.0 459.0,1891.7 461.0,1880.0C463.0,1868.3 465.5,1853.3 468.0,1840.0C470.5,1826.7 472.8,1814.0 476.0,1800.0C479.2,1786.0 490.0,1763.0 487.0,1756.0C484.0,1749.0 461.8,1750.7 458.0,1758.0Z" fill="#FF0A14"/>
<path d="M462.5,1672.5C461.2,1670.4 467.1,1667.9 470.0,1667.5C472.9,1667.1 476.7,1668.9 480.0,1670.0C483.3,1671.1 483.3,1671.9 490.0,1674.0C496.7,1676.1 511.7,1680.7 520.0,1682.5C528.3,1684.3 528.3,1685.0 540.0,1685.0C551.7,1685.0 573.3,1682.9 590.0,1682.5C606.7,1682.1 625.0,1682.1 640.0,1682.5C655.0,1682.9 669.6,1684.2 680.0,1685.0C690.4,1685.8 698.3,1686.2 702.5,1687.5C706.7,1688.8 705.8,1690.8 705.0,1692.5C704.2,1694.2 700.5,1696.3 698.0,1698.0C695.5,1699.7 699.7,1701.3 690.0,1702.5C680.3,1703.7 656.7,1704.2 640.0,1705.0C623.3,1705.8 606.7,1707.1 590.0,1707.5C573.3,1707.9 556.7,1707.9 540.0,1707.5C523.3,1707.1 500.3,1706.2 490.0,1705.0C479.7,1703.8 480.5,1701.7 478.0,1700.0C475.5,1698.3 474.8,1697.2 475.0,1695.0C475.2,1692.8 478.5,1689.5 479.0,1687.0C479.5,1684.5 480.8,1682.4 478.0,1680.0C475.2,1677.6 463.8,1674.6 462.5,1672.5Z" fill="#F5A262" stroke="#000" stroke-width="1"/>
<path d="M615.0,1267.5C615.7,1263.7 617.5,1258.8 620.0,1255.0C622.5,1251.2 626.3,1248.0 630.0,1245.0C633.7,1242.0 637.8,1238.8 642.0,1237.0C646.2,1235.2 651.2,1233.8 655.0,1234.0C658.8,1234.2 661.7,1236.2 665.0,1238.0C668.3,1239.8 671.7,1242.3 675.0,1245.0C678.3,1247.7 681.7,1251.5 685.0,1254.0C688.3,1256.5 690.5,1259.5 695.0,1260.0C699.5,1260.5 706.2,1258.2 712.0,1257.0C717.8,1255.8 723.3,1253.0 730.0,1252.5C736.7,1252.0 744.5,1253.2 752.0,1254.0C759.5,1254.8 767.0,1256.2 775.0,1257.5C783.0,1258.8 791.7,1260.3 800.0,1262.0C808.3,1263.7 817.5,1264.8 825.0,1267.5C832.5,1270.2 839.2,1274.2 845.0,1278.0C850.8,1281.8 854.2,1286.5 860.0,1290.0C865.8,1293.5 874.2,1296.5 880.0,1299.0C885.8,1301.5 891.5,1303.0 895.0,1305.0C898.5,1307.0 900.8,1308.7 901.0,1311.0C901.2,1313.3 898.7,1317.1 896.0,1319.0C893.3,1320.9 891.8,1321.7 885.0,1322.5C878.2,1323.3 865.0,1323.6 855.0,1324.0C845.0,1324.4 835.0,1324.7 825.0,1325.0C815.0,1325.3 802.2,1325.5 795.0,1326.0C787.8,1326.5 785.2,1325.7 782.0,1328.0C778.8,1330.3 777.7,1330.5 776.0,1340.0C774.3,1349.5 772.5,1369.2 772.0,1385.0C771.5,1400.8 773.2,1419.2 773.0,1435.0C772.8,1450.8 771.5,1467.5 771.0,1480.0C770.5,1492.5 769.8,1496.7 770.0,1510.0C770.2,1523.3 771.7,1545.0 772.5,1560.0C773.3,1575.0 774.6,1586.7 775.0,1600.0C775.4,1613.3 775.8,1628.7 775.0,1640.0C774.2,1651.3 771.8,1659.7 770.0,1668.0C768.2,1676.3 766.0,1691.3 764.0,1690.0C762.0,1688.7 759.3,1668.3 758.0,1660.0C756.7,1651.7 756.7,1650.0 756.0,1640.0C755.3,1630.0 754.6,1613.3 754.0,1600.0C753.4,1586.7 752.3,1575.0 752.5,1560.0C752.7,1545.0 754.2,1530.0 755.0,1510.0C755.8,1490.0 758.3,1458.3 757.5,1440.0C756.7,1421.7 752.9,1413.3 750.0,1400.0C747.1,1386.7 743.7,1370.3 740.0,1360.0C736.3,1349.7 733.8,1343.8 728.0,1338.0C722.2,1332.2 713.0,1329.3 705.0,1325.0C697.0,1320.7 689.2,1316.2 680.0,1312.0C670.8,1307.8 659.2,1304.0 650.0,1300.0C640.8,1296.0 630.7,1291.7 625.0,1288.0C619.3,1284.3 617.7,1281.4 616.0,1278.0C614.3,1274.6 614.3,1271.3 615.0,1267.5Z" fill="#FF4A4A" opacity="0.68"/>
<path d="M620.0,1268.0C621.3,1265.8 624.7,1263.5 628.0,1262.0C631.3,1260.5 635.5,1259.0 640.0,1259.0C644.5,1259.0 650.0,1260.6 655.0,1262.0C660.0,1263.4 664.2,1265.5 670.0,1267.5C675.8,1269.5 683.3,1271.9 690.0,1274.0C696.7,1276.1 703.3,1278.8 710.0,1280.0C716.7,1281.2 723.3,1281.0 730.0,1281.0C736.7,1281.0 741.7,1280.6 750.0,1280.0C758.3,1279.4 773.3,1277.5 780.0,1277.5C786.7,1277.5 787.5,1278.8 790.0,1280.0C792.5,1281.2 795.0,1283.5 795.0,1285.0C795.0,1286.5 792.5,1287.8 790.0,1289.0C787.5,1290.2 785.0,1291.6 780.0,1292.5C775.0,1293.4 766.7,1293.9 760.0,1294.5C753.3,1295.1 745.8,1295.6 740.0,1296.0C734.2,1296.4 728.3,1296.3 725.0,1297.0C721.7,1297.7 719.5,1298.2 720.0,1300.0C720.5,1301.8 724.7,1304.7 728.0,1308.0C731.3,1311.3 736.0,1316.3 740.0,1320.0C744.0,1323.7 748.7,1326.7 752.0,1330.0C755.3,1333.3 757.5,1335.8 760.0,1340.0C762.5,1344.2 765.3,1350.0 767.0,1355.0C768.7,1360.0 769.8,1365.0 770.0,1370.0C770.2,1375.0 768.4,1380.0 768.0,1385.0C767.6,1390.0 767.2,1395.0 767.5,1400.0C767.8,1405.0 769.2,1410.0 770.0,1415.0C770.8,1420.0 772.8,1423.3 772.5,1430.0C772.2,1436.7 769.2,1446.7 768.0,1455.0C766.8,1463.3 765.0,1471.7 765.0,1480.0C765.0,1488.3 767.2,1496.7 768.0,1505.0C768.8,1513.3 769.7,1520.8 770.0,1530.0C770.3,1539.2 769.8,1548.3 770.0,1560.0C770.2,1571.7 770.7,1586.7 771.0,1600.0C771.3,1613.3 772.5,1628.3 772.0,1640.0C771.5,1651.7 769.8,1660.5 768.0,1670.0C766.2,1679.5 762.8,1697.0 761.0,1697.0C759.2,1697.0 757.7,1679.5 757.0,1670.0C756.3,1660.5 757.2,1651.7 757.0,1640.0C756.8,1628.3 756.3,1613.3 756.0,1600.0C755.7,1586.7 755.0,1575.0 755.0,1560.0C755.0,1545.0 755.6,1526.7 756.0,1510.0C756.4,1493.3 757.7,1472.5 757.5,1460.0C757.3,1447.5 755.8,1443.3 755.0,1435.0C754.2,1426.7 753.3,1418.3 752.5,1410.0C751.7,1401.7 752.1,1394.2 750.0,1385.0C747.9,1375.8 743.3,1362.3 740.0,1355.0C736.7,1347.7 733.3,1345.2 730.0,1341.0C726.7,1336.8 724.2,1334.2 720.0,1330.0C715.8,1325.8 710.0,1320.2 705.0,1316.0C700.0,1311.8 695.8,1308.7 690.0,1305.0C684.2,1301.3 676.7,1297.3 670.0,1294.0C663.3,1290.7 656.3,1287.5 650.0,1285.0C643.7,1282.5 637.0,1280.7 632.0,1279.0C627.0,1277.3 622.0,1276.8 620.0,1275.0C618.0,1273.2 618.7,1270.2 620.0,1268.0Z" fill="#FF1418" opacity="0.92"/>
<path d="M632.5,1195.0C632.5,1193.5 642.9,1193.0 650.0,1192.0C657.1,1191.0 666.7,1190.0 675.0,1189.0C683.3,1188.0 691.7,1186.7 700.0,1186.0C708.3,1185.3 716.7,1185.2 725.0,1185.0C733.3,1184.8 741.7,1185.0 750.0,1185.0C758.3,1185.0 769.0,1184.3 775.0,1185.0C781.0,1185.7 783.3,1187.5 786.0,1189.0C788.7,1190.5 791.7,1192.3 791.0,1194.0C790.3,1195.7 785.1,1197.4 782.0,1199.0C778.9,1200.6 774.5,1200.8 772.5,1203.5C770.5,1206.2 770.4,1209.8 770.0,1215.0C769.6,1220.2 770.3,1228.3 770.0,1235.0C769.7,1241.7 768.8,1248.3 768.0,1255.0C767.2,1261.7 766.3,1270.0 765.0,1275.0C763.7,1280.0 762.1,1282.3 760.0,1285.0C757.9,1287.7 754.3,1291.0 752.5,1291.0C750.7,1291.0 749.8,1287.7 749.0,1285.0C748.2,1282.3 748.0,1280.0 747.5,1275.0C747.0,1270.0 746.4,1261.7 746.0,1255.0C745.6,1248.3 745.4,1241.7 745.0,1235.0C744.6,1228.3 743.9,1219.6 743.5,1215.0C743.1,1210.4 744.8,1209.0 742.5,1207.5C740.2,1206.0 737.1,1206.6 730.0,1206.0C722.9,1205.4 709.2,1204.6 700.0,1204.0C690.8,1203.4 683.3,1203.0 675.0,1202.5C666.7,1202.0 657.1,1202.2 650.0,1201.0C642.9,1199.8 632.5,1196.5 632.5,1195.0Z" fill="#FF0A14"/>
<path d="M562.5,1550.0C561.7,1548.2 568.8,1547.2 575.0,1546.0C581.2,1544.8 591.7,1543.3 600.0,1542.5C608.3,1541.7 616.7,1541.4 625.0,1541.0C633.3,1540.6 643.3,1541.0 650.0,1540.0C656.7,1539.0 660.0,1537.1 665.0,1535.0C670.0,1532.9 675.8,1529.3 680.0,1527.5C684.2,1525.7 686.7,1524.8 690.0,1524.0C693.3,1523.2 695.3,1522.3 700.0,1522.5C704.7,1522.7 712.2,1523.8 718.0,1525.0C723.8,1526.2 728.8,1528.5 735.0,1530.0C741.2,1531.5 748.3,1532.8 755.0,1534.0C761.7,1535.2 770.7,1535.7 775.0,1537.5C779.3,1539.3 781.8,1542.5 781.0,1545.0C780.2,1547.5 775.2,1551.2 770.0,1552.5C764.8,1553.8 755.8,1553.1 750.0,1553.0C744.2,1552.9 740.8,1552.5 735.0,1552.0C729.2,1551.5 720.8,1550.2 715.0,1550.0C709.2,1549.8 705.8,1550.0 700.0,1551.0C694.2,1552.0 686.0,1554.5 680.0,1556.0C674.0,1557.5 668.3,1557.3 664.0,1560.0C659.7,1562.7 656.2,1565.2 654.0,1572.0C651.8,1578.8 651.7,1592.5 651.0,1601.0C650.3,1609.5 650.0,1613.2 650.0,1623.0C650.0,1632.8 650.7,1646.8 651.0,1660.0C651.3,1673.2 650.5,1690.0 652.0,1702.0C653.5,1714.0 657.7,1722.7 660.0,1732.0C662.3,1741.3 668.7,1753.7 666.0,1758.0C663.3,1762.3 649.7,1760.7 644.0,1758.0C638.3,1755.3 635.3,1747.2 632.0,1742.0C628.7,1736.8 626.2,1734.0 624.0,1727.0C621.8,1720.0 619.5,1708.5 618.5,1700.0C617.5,1691.5 617.9,1686.0 617.8,1676.0C617.7,1666.0 618.0,1648.8 618.0,1640.0C618.0,1631.2 617.3,1629.5 618.0,1623.0C618.7,1616.5 619.7,1609.0 622.0,1601.0C624.3,1593.0 630.0,1581.5 632.0,1575.0C634.0,1568.5 636.0,1564.7 634.0,1562.0C632.0,1559.3 625.7,1559.7 620.0,1559.0C614.3,1558.3 606.7,1558.3 600.0,1558.0C593.3,1557.7 586.2,1558.3 580.0,1557.0C573.8,1555.7 563.3,1551.8 562.5,1550.0Z" fill="#FF3030" opacity="0.85"/>
<path d="M405.0,1312.0C405.7,1306.3 408.7,1300.5 412.0,1296.0C415.3,1291.5 418.7,1288.5 425.0,1285.0C431.3,1281.5 442.5,1276.0 450.0,1275.0C457.5,1274.0 464.2,1276.5 470.0,1279.0C475.8,1281.5 480.0,1287.3 485.0,1290.0C490.0,1292.7 494.7,1295.0 500.0,1295.0C505.3,1295.0 511.2,1291.2 517.0,1290.0C522.8,1288.8 527.8,1287.5 535.0,1287.5C542.2,1287.5 552.5,1288.8 560.0,1290.0C567.5,1291.2 570.0,1291.7 580.0,1295.0C590.0,1298.3 608.3,1305.0 620.0,1310.0C631.7,1315.0 640.8,1320.8 650.0,1325.0C659.2,1329.2 671.0,1331.7 675.0,1335.0C679.0,1338.3 678.2,1342.5 674.0,1345.0C669.8,1347.5 662.3,1349.6 650.0,1350.0C637.7,1350.4 613.0,1347.3 600.0,1347.5C587.0,1347.7 578.2,1349.2 572.0,1351.0C565.8,1352.8 565.0,1348.2 563.0,1358.0C561.0,1367.8 560.9,1393.0 560.0,1410.0C559.1,1427.0 557.5,1443.3 557.5,1460.0C557.5,1476.7 559.2,1493.3 560.0,1510.0C560.8,1526.7 561.7,1545.0 562.5,1560.0C563.3,1575.0 564.1,1586.7 565.0,1600.0C565.9,1613.3 569.5,1633.3 568.0,1640.0C566.5,1646.7 558.7,1646.7 556.0,1640.0C553.3,1633.3 553.0,1613.3 552.0,1600.0C551.0,1586.7 550.3,1575.0 550.0,1560.0C549.7,1545.0 550.8,1526.7 550.0,1510.0C549.2,1493.3 547.5,1476.7 545.0,1460.0C542.5,1443.3 538.0,1425.8 535.0,1410.0C532.0,1394.2 530.3,1375.0 527.0,1365.0C523.7,1355.0 521.2,1354.2 515.0,1350.0C508.8,1345.8 498.3,1342.5 490.0,1340.0C481.7,1337.5 475.8,1335.8 465.0,1335.0C454.2,1334.2 434.5,1335.8 425.0,1335.0C415.5,1334.2 411.3,1333.8 408.0,1330.0C404.7,1326.2 404.3,1317.7 405.0,1312.0Z" fill="#FF281E" opacity="0.9"/>
<path d="M327.5,1387.5C326.5,1384.4 331.1,1380.9 334.0,1379.0C336.9,1377.1 341.2,1375.7 345.0,1376.0C348.8,1376.3 352.8,1379.1 357.0,1381.0C361.2,1382.9 363.7,1385.7 370.0,1387.5C376.3,1389.3 385.8,1390.8 395.0,1392.0C404.2,1393.2 415.8,1394.2 425.0,1395.0C434.2,1395.8 442.5,1396.3 450.0,1397.0C457.5,1397.7 464.3,1397.8 470.0,1399.0C475.7,1400.2 484.0,1402.4 484.0,1404.0C484.0,1405.6 477.3,1407.5 470.0,1408.5C462.7,1409.5 449.7,1409.6 440.0,1410.0C430.3,1410.4 417.5,1410.0 412.0,1411.0C406.5,1412.0 407.9,1414.7 407.0,1416.0C406.1,1417.3 405.8,1415.5 406.6,1418.6C407.4,1421.7 409.2,1428.8 411.8,1434.4C414.4,1440.0 419.8,1446.2 422.4,1452.0C425.0,1457.8 426.6,1462.2 427.6,1469.5C428.6,1476.8 428.8,1488.5 428.5,1495.8C428.2,1503.1 426.5,1508.7 425.9,1513.4C425.3,1518.1 425.3,1519.4 425.0,1523.8C424.7,1528.2 425.0,1534.3 424.0,1539.6C423.0,1544.9 422.0,1551.0 418.8,1555.4C415.6,1559.8 408.8,1561.9 404.7,1566.0C400.6,1570.1 396.7,1574.2 394.2,1580.0C391.7,1585.8 390.1,1593.1 389.8,1601.0C389.5,1608.9 391.2,1620.1 392.5,1627.4C393.8,1634.7 396.4,1638.7 397.7,1645.0C398.9,1651.3 402.3,1661.2 400.0,1665.0C397.7,1668.8 387.3,1671.3 384.0,1668.0C380.7,1664.7 381.3,1651.8 380.2,1645.0C379.1,1638.2 378.1,1634.7 377.5,1627.4C376.9,1620.1 376.6,1609.8 376.7,1601.0C376.8,1592.2 377.2,1581.7 378.4,1574.7C379.6,1567.7 381.1,1563.4 383.7,1559.0C386.3,1554.6 389.2,1551.6 394.2,1548.4C399.2,1545.2 410.7,1543.7 413.5,1539.6C416.3,1535.5 411.3,1529.6 410.9,1523.8C410.5,1518.0 411.4,1510.7 411.0,1504.6C410.6,1498.5 409.9,1494.3 408.3,1487.0C406.7,1479.7 403.6,1469.5 401.3,1460.7C399.0,1451.9 396.6,1441.7 394.3,1434.4C392.0,1427.1 389.7,1421.7 387.3,1416.8C384.9,1411.9 384.6,1407.6 380.0,1405.0C375.4,1402.4 366.7,1402.2 360.0,1401.0C353.3,1399.8 345.4,1399.8 340.0,1397.5C334.6,1395.2 328.5,1390.6 327.5,1387.5Z" fill="#FF2020" opacity="0.92"/>
<path d="M417.5,1507.0C419.5,1504.0 422.1,1501.8 425.0,1500.0C427.9,1498.2 431.7,1496.0 435.0,1496.0C438.3,1496.0 441.7,1498.5 445.0,1500.0C448.3,1501.5 451.7,1504.5 455.0,1505.0C458.3,1505.5 461.7,1503.4 465.0,1503.0C468.3,1502.6 470.8,1502.2 475.0,1502.5C479.2,1502.8 484.2,1503.8 490.0,1505.0C495.8,1506.2 504.2,1508.0 510.0,1510.0C515.8,1512.0 520.8,1514.9 525.0,1517.0C529.2,1519.1 531.7,1520.8 535.0,1522.5C538.3,1524.2 542.3,1525.6 545.0,1527.0C547.7,1528.4 551.0,1529.7 551.0,1531.0C551.0,1532.3 550.2,1534.3 545.0,1535.0C539.8,1535.7 527.5,1535.3 520.0,1535.0C512.5,1534.7 504.5,1532.2 500.0,1533.0C495.5,1533.8 494.2,1536.2 493.0,1540.0C491.8,1543.8 492.6,1547.7 492.6,1556.0C492.6,1564.3 493.2,1578.8 493.0,1590.0C492.8,1601.2 491.9,1611.3 491.4,1623.0C490.9,1634.7 490.4,1647.2 490.0,1660.0C489.6,1672.8 490.2,1693.3 489.0,1700.0C487.8,1706.7 483.5,1706.7 482.5,1700.0C481.5,1693.3 482.6,1672.8 483.0,1660.0C483.4,1647.2 485.0,1634.7 484.7,1623.0C484.4,1611.3 482.3,1601.2 481.0,1590.0C479.7,1578.8 478.2,1564.3 477.0,1556.0C475.8,1547.7 475.8,1544.0 474.0,1540.0C472.2,1536.0 470.0,1533.8 466.0,1532.0C462.0,1530.2 456.3,1529.3 450.0,1529.0C443.7,1528.7 433.3,1530.2 428.0,1530.0C422.7,1529.8 420.5,1530.0 418.0,1528.0C415.5,1526.0 413.1,1521.5 413.0,1518.0C412.9,1514.5 415.5,1510.0 417.5,1507.0Z" fill="#FF2020" opacity="0.9"/>
<path d="M345.0,1275.0C344.7,1272.5 347.5,1269.5 350.0,1268.0C352.5,1266.5 357.0,1266.0 360.0,1266.0C363.0,1266.0 365.5,1266.9 368.0,1268.0C370.5,1269.1 371.7,1270.2 375.0,1272.5C378.3,1274.8 383.8,1279.5 388.0,1282.0C392.2,1284.5 395.5,1286.3 400.0,1287.5C404.5,1288.7 411.2,1288.4 415.0,1289.0C418.8,1289.6 423.0,1290.2 423.0,1291.0C423.0,1291.8 418.8,1293.3 415.0,1294.0C411.2,1294.7 405.0,1294.8 400.0,1295.0C395.0,1295.2 388.5,1294.7 385.0,1295.0C381.5,1295.3 380.5,1294.5 379.0,1297.0C377.5,1299.5 377.0,1302.8 376.0,1310.0C375.0,1317.2 373.8,1331.3 373.0,1340.0C372.2,1348.7 371.7,1355.3 371.0,1362.0C370.3,1368.7 368.8,1375.3 369.0,1380.0C369.2,1384.7 370.2,1387.0 372.0,1390.0C373.8,1393.0 377.0,1395.5 380.0,1398.0C383.0,1400.5 390.3,1404.5 390.0,1405.0C389.7,1405.5 381.7,1402.8 378.0,1401.0C374.3,1399.2 370.2,1397.2 368.0,1394.0C365.8,1390.8 365.3,1387.7 365.0,1382.0C364.7,1376.3 365.3,1367.8 366.0,1360.0C366.7,1352.2 368.0,1343.3 369.0,1335.0C370.0,1326.7 371.3,1316.3 372.0,1310.0C372.7,1303.7 374.7,1300.3 373.0,1297.0C371.3,1293.7 365.5,1292.3 362.0,1290.0C358.5,1287.7 354.8,1285.5 352.0,1283.0C349.2,1280.5 345.3,1277.5 345.0,1275.0Z" fill="#FF0A14"/>
<g filter="url(#fRough2)">
<path d="M286.0,242.0L330.0,255.0L395.0,268.0L425.0,270.0L428.0,300.0L418.0,335.0L409.0,342.0L397.0,362.0L385.0,345.0L369.0,328.0L358.0,310.0L348.0,291.0L330.0,297.0L316.0,285.0L302.0,279.0L294.0,262.0Z" fill="#30505A"/>
<path d="M596.0,266.0L640.0,262.0L680.0,256.0L702.0,252.0L701.0,275.0L692.0,300.0L682.0,318.0L672.0,300.0L660.0,318.0L648.0,300.0L640.0,312.0L628.0,296.0L615.0,290.0L604.0,295.0Z" fill="#30505A"/>
</g>
<g filter="url(#fRough2)">
<path d="M350.0,266.0C338.3,268.3 363.3,278.2 370.0,284.0C376.7,289.8 383.5,293.8 390.0,301.0C396.5,308.2 403.0,318.0 409.0,327.0C415.0,336.0 422.8,346.3 426.0,355.0C429.2,363.7 425.9,370.7 428.4,379.0C430.9,387.3 439.6,396.5 441.0,405.0C442.4,413.5 437.9,422.6 437.0,430.0C436.1,437.4 434.7,442.6 435.4,449.3C436.1,456.0 440.6,463.6 441.0,470.0C441.4,476.4 442.3,483.0 438.0,488.0C433.7,493.0 419.7,496.3 415.0,500.0C410.3,503.7 413.3,507.5 410.0,510.0C406.7,512.5 400.8,513.0 395.0,515.0C389.2,517.0 382.5,518.5 375.0,522.0C367.5,525.5 356.7,532.0 350.0,536.0C343.3,540.0 339.7,542.7 335.0,546.0C330.3,549.3 319.5,557.0 322.0,556.0C324.5,555.0 340.7,544.3 350.0,540.0C359.3,535.7 371.0,530.3 378.0,530.0C385.0,529.7 386.7,534.3 392.0,538.0C397.3,541.7 402.0,547.3 410.0,552.0C418.0,556.7 430.0,562.3 440.0,566.0C450.0,569.7 461.7,571.7 470.0,574.0C478.3,576.3 484.2,577.3 490.0,580.0C495.8,582.7 499.7,587.0 505.0,590.0C510.3,593.0 516.8,596.3 522.0,598.0C527.2,599.7 532.0,601.0 536.0,600.0C540.0,599.0 542.7,595.3 546.0,592.0C549.3,588.7 551.2,582.8 556.0,580.0C560.8,577.2 567.7,575.5 575.0,575.0C582.3,574.5 591.7,576.2 600.0,577.0C608.3,577.8 617.5,580.2 625.0,580.0C632.5,579.8 639.2,578.3 645.0,576.0C650.8,573.7 656.2,570.7 660.0,566.0C663.8,561.3 668.0,553.2 668.0,548.0C668.0,542.8 664.7,539.7 660.0,535.0C655.3,530.3 645.3,525.0 640.0,520.0C634.7,515.0 633.0,510.0 628.0,505.0C623.0,500.0 615.0,495.8 610.0,490.0C605.0,484.2 599.7,476.7 598.0,470.0C596.3,463.3 598.8,456.7 600.0,450.0C601.2,443.3 605.8,436.7 605.0,430.0C604.2,423.3 595.8,415.8 595.0,410.0C594.2,404.2 597.5,399.2 600.0,395.0C602.5,390.8 608.0,390.8 610.0,385.0C612.0,379.2 612.8,369.2 612.0,360.0C611.2,350.8 607.3,340.0 605.0,330.0C602.7,320.0 598.8,310.3 598.0,300.0C597.2,289.7 606.3,273.3 600.0,268.0C593.7,262.7 576.7,267.7 560.0,268.0C543.3,268.3 520.0,269.7 500.0,270.0C480.0,270.3 465.0,270.7 440.0,270.0C415.0,269.3 361.7,263.7 350.0,266.0Z" fill="#48655A"/>
<path d="M495.0,270.0C501.3,264.7 512.5,268.3 530.0,268.0C547.5,267.7 588.7,262.7 600.0,268.0C611.3,273.3 597.2,289.7 598.0,300.0C598.8,310.3 602.7,320.0 605.0,330.0C607.3,340.0 611.2,350.8 612.0,360.0C612.8,369.2 612.3,379.0 610.0,385.0C607.7,391.0 603.0,395.5 598.0,396.0C593.0,396.5 585.5,392.3 580.0,388.0C574.5,383.7 570.3,374.7 565.0,370.0C559.7,365.3 553.8,364.2 548.0,360.0C542.2,355.8 536.3,348.7 530.0,345.0C523.7,341.3 515.8,341.3 510.0,338.0C504.2,334.7 498.0,331.3 495.0,325.0C492.0,318.7 492.0,309.2 492.0,300.0C492.0,290.8 488.7,275.3 495.0,270.0Z" fill="#1D3E27"/>
<path d="M440.0,402.0C445.7,394.7 458.3,396.3 470.0,396.0C481.7,395.7 497.3,397.7 510.0,400.0C522.7,402.3 539.7,403.3 546.0,410.0C552.3,416.7 549.0,430.0 548.0,440.0C547.0,450.0 548.0,463.3 540.0,470.0C532.0,476.7 513.3,478.7 500.0,480.0C486.7,481.3 470.0,479.7 460.0,478.0C450.0,476.3 444.0,476.3 440.0,470.0C436.0,463.7 436.0,451.3 436.0,440.0C436.0,428.7 434.3,409.3 440.0,402.0Z" fill="#4A7360"/>
<path d="M432.0,424.0C433.0,419.8 437.7,417.3 440.0,420.0C442.3,422.7 444.7,433.7 446.0,440.0C447.3,446.3 449.0,454.3 448.0,458.0C447.0,461.7 442.3,464.2 440.0,462.0C437.7,459.8 435.3,451.3 434.0,445.0C432.7,438.7 431.0,428.2 432.0,424.0Z" fill="#8DB8C8"/>
<path d="M372.0,530.0C374.5,528.3 387.0,521.0 395.0,518.0C403.0,515.0 408.8,512.0 420.0,512.0C431.2,512.0 454.3,512.5 462.0,518.0C469.7,523.5 464.7,535.7 466.0,545.0C467.3,554.3 474.3,570.5 470.0,574.0C465.7,577.5 450.0,569.7 440.0,566.0C430.0,562.3 418.0,556.7 410.0,552.0C402.0,547.3 397.0,542.0 392.0,538.0C387.0,534.0 383.3,529.3 380.0,528.0C376.7,526.7 369.5,531.7 372.0,530.0Z" fill="#4F7A64"/>
<path d="M462.0,524.0C467.8,520.7 487.0,520.0 500.0,520.0C513.0,520.0 526.7,522.7 540.0,524.0C553.3,525.3 566.7,528.3 580.0,528.0C593.3,527.7 608.3,523.3 620.0,522.0C631.7,520.7 642.3,517.3 650.0,520.0C657.7,522.7 664.0,532.0 666.0,538.0C668.0,544.0 664.7,550.7 662.0,556.0C659.3,561.3 653.7,566.3 650.0,570.0C646.3,573.7 648.3,576.8 640.0,578.0C631.7,579.2 613.3,577.0 600.0,577.0C586.7,577.0 569.0,575.5 560.0,578.0C551.0,580.5 550.0,588.3 546.0,592.0C542.0,595.7 540.0,599.0 536.0,600.0C532.0,601.0 527.2,599.7 522.0,598.0C516.8,596.3 510.3,593.0 505.0,590.0C499.7,587.0 495.0,582.5 490.0,580.0C485.0,577.5 478.3,578.3 475.0,575.0C471.7,571.7 471.7,565.8 470.0,560.0C468.3,554.2 466.3,546.0 465.0,540.0C463.7,534.0 456.2,527.3 462.0,524.0Z" fill="#1E3A1E"/>
<path d="M545.0,532.0C553.7,528.0 582.5,529.3 600.0,528.0C617.5,526.7 639.0,522.0 650.0,524.0C661.0,526.0 664.3,534.3 666.0,540.0C667.7,545.7 664.3,552.0 660.0,558.0C655.7,564.0 650.0,573.2 640.0,576.0C630.0,578.8 611.7,576.7 600.0,575.0C588.3,573.3 578.7,569.8 570.0,566.0C561.3,562.2 552.2,557.7 548.0,552.0C543.8,546.3 536.3,536.0 545.0,532.0Z" fill="#172E15"/>
<ellipse cx="440" cy="292" rx="32" ry="20" fill="#3A5448"/>
<ellipse cx="432" cy="290" rx="15" ry="11" fill="#1C3038" transform="rotate(-20 432 290)"/>
<ellipse cx="470" cy="283" rx="20" ry="8" fill="#5A8466" transform="rotate(-10 470 283)"/>
<ellipse cx="400" cy="282" rx="16" ry="6" fill="#4E7A60" transform="rotate(25 400 282)"/>
<ellipse cx="372" cy="276" rx="12" ry="5" fill="#44705A" transform="rotate(30 372 276)"/>
<ellipse cx="480" cy="345" rx="30" ry="16" fill="#54796A" transform="rotate(-10 480 345)"/>
<ellipse cx="505" cy="365" rx="30" ry="12" fill="#57806C" transform="rotate(-10 505 365)"/>
<ellipse cx="470" cy="388" rx="24" ry="12" fill="#6B9A82" transform="rotate(-25 470 388)"/>
<ellipse cx="520" cy="395" rx="26" ry="9" fill="#6B9A82" transform="rotate(10 520 395)"/>
<ellipse cx="455" cy="420" rx="14" ry="18" fill="#54796A"/>
<ellipse cx="500" cy="430" rx="34" ry="14" fill="#557A6A"/>
<ellipse cx="480" cy="455" rx="30" ry="12" fill="#57806C" transform="rotate(-10 480 455)"/>
<ellipse cx="530" cy="455" rx="24" ry="10" fill="#6B9A82" transform="rotate(15 530 455)"/>
<ellipse cx="470" cy="440" rx="14" ry="8" fill="#6B9A82"/>
<ellipse cx="572" cy="415" rx="24" ry="26" fill="#425E52"/>
<ellipse cx="585" cy="450" rx="18" ry="22" fill="#3E5A4E"/>
<ellipse cx="560" cy="470" rx="22" ry="14" fill="#4A685C"/>
<ellipse cx="600" cy="488" rx="20" ry="14" fill="#48665A" transform="rotate(30 600 488)"/>
<ellipse cx="625" cy="508" rx="16" ry="8" fill="#587C6C" transform="rotate(30 625 508)"/>
<ellipse cx="570" cy="405" rx="14" ry="3" fill="#6B9A82" transform="rotate(35 570 405)"/>
<ellipse cx="580" cy="430" rx="12" ry="3" fill="#6B9A82" transform="rotate(40 580 430)"/>
<ellipse cx="565" cy="445" rx="12" ry="3" fill="#6B9A82" transform="rotate(-30 565 445)"/>
<ellipse cx="590" cy="468" rx="12" ry="4" fill="#6B9A82" transform="rotate(30 590 468)"/>
<ellipse cx="575" cy="490" rx="22" ry="4" fill="#6B9A82" transform="rotate(20 575 490)"/>
<ellipse cx="605" cy="505" rx="14" ry="4" fill="#6B9A82" transform="rotate(25 605 505)"/>
<ellipse cx="548" cy="485" rx="16" ry="6" fill="#668F7A" transform="rotate(15 548 485)"/>
<ellipse cx="540" cy="510" rx="30" ry="5" fill="#6B947E" transform="rotate(10 540 510)"/>
<ellipse cx="600" cy="425" rx="8" ry="14" fill="#2A4A36"/>
<ellipse cx="590" cy="400" rx="10" ry="8" fill="#1D3E27"/>
<ellipse cx="392" cy="514" rx="10" ry="4" fill="#B8C890" transform="rotate(-28 392 514)"/>
<ellipse cx="376" cy="522" rx="10" ry="4" fill="#DCE4B0" transform="rotate(-30 376 522)"/>
<ellipse cx="360" cy="531" rx="10" ry="4" fill="#B8C890" transform="rotate(-32 360 531)"/>
<ellipse cx="345" cy="541" rx="9" ry="4" fill="#DCE4B0" transform="rotate(-34 345 541)"/>
<ellipse cx="332" cy="551" rx="9" ry="3.5" fill="#C8D4A0" transform="rotate(-36 332 551)"/>
<ellipse cx="321" cy="560" rx="7" ry="3" fill="#DCE4B0" transform="rotate(-38 321 560)"/>
<ellipse cx="352" cy="545" rx="6" ry="3" fill="#F0F0D0" transform="rotate(-30 352 545)"/>
<ellipse cx="384" cy="526" rx="6" ry="3" fill="#EEF0C8" transform="rotate(-30 384 526)"/>
<path d="M398.0,306.0C400.3,309.3 408.0,319.8 412.0,326.0C416.0,332.2 419.0,337.3 422.0,343.0C425.0,348.7 428.2,353.5 430.0,360.0C431.8,366.5 430.8,374.5 433.0,382.0C435.2,389.5 441.7,397.0 443.0,405.0C444.3,413.0 441.7,422.5 441.0,430.0C440.3,437.5 438.5,443.0 439.0,450.0C439.5,457.0 443.2,468.3 444.0,472.0" fill="none" stroke="#7FA283" stroke-width="6" stroke-linecap="round"/>
<path d="M398.0,306.0C400.3,309.3 408.0,319.8 412.0,326.0C416.0,332.2 419.0,337.3 422.0,343.0C425.0,348.7 428.2,353.5 430.0,360.0C431.8,366.5 430.8,374.5 433.0,382.0C435.2,389.5 441.7,397.0 443.0,405.0C444.3,413.0 441.7,422.5 441.0,430.0C440.3,437.5 438.5,443.0 439.0,450.0C439.5,457.0 443.2,468.3 444.0,472.0" fill="none" stroke="#B9CF94" stroke-width="3" stroke-linecap="round" stroke-dasharray="7 9"/>
<ellipse cx="399" cy="306" rx="11" ry="7" fill="#DCDE98" transform="rotate(40 399 306)"/>
<ellipse cx="392" cy="300" rx="6" ry="4" fill="#C4D49A" transform="rotate(40 392 300)"/>
<path d="M405.0,500.0C403.3,496.3 406.5,491.3 410.0,488.0C413.5,484.7 420.2,482.3 426.0,480.0C431.8,477.7 438.5,474.3 445.0,474.0C451.5,473.7 458.3,478.7 465.0,478.0C471.7,477.3 478.3,472.0 485.0,470.0C491.7,468.0 498.8,467.7 505.0,466.0C511.2,464.3 516.5,462.0 522.0,460.0C527.5,458.0 534.0,453.8 538.0,454.0C542.0,454.2 546.3,458.0 546.0,461.0C545.7,464.0 540.0,468.5 536.0,472.0C532.0,475.5 526.0,478.2 522.0,482.0C518.0,485.8 517.0,491.2 512.0,495.0C507.0,498.8 499.3,502.3 492.0,505.0C484.7,507.7 476.3,509.7 468.0,511.0C459.7,512.3 450.0,513.2 442.0,513.0C434.0,512.8 426.2,512.2 420.0,510.0C413.8,507.8 406.7,503.7 405.0,500.0Z" fill="#B0C48C"/>
<ellipse cx="430" cy="487" rx="11" ry="5" fill="#D5E0A0" transform="rotate(-10 430 487)"/>
<ellipse cx="462" cy="485" rx="12" ry="5" fill="#D8E4A8" transform="rotate(-5 462 485)"/>
<ellipse cx="490" cy="477" rx="10" ry="5" fill="#D5E0A0" transform="rotate(-15 490 477)"/>
<ellipse cx="520" cy="467" rx="9" ry="4" fill="#D0DCA0" transform="rotate(-20 520 467)"/>
<ellipse cx="416" cy="496" rx="7" ry="5" fill="#C8D898"/>
<ellipse cx="447" cy="480" rx="6" ry="4" fill="#E4ECB8"/>
<ellipse cx="452" cy="502" rx="18" ry="4.5" fill="#8FA97E"/>
<ellipse cx="487" cy="495" rx="14" ry="4" fill="#8FAE84" transform="rotate(-10 487 495)"/>
<ellipse cx="425" cy="506" rx="12" ry="3.5" fill="#86A47A"/>
<ellipse cx="505" cy="484" rx="8" ry="3.5" fill="#90AE80" transform="rotate(-20 505 484)"/>
<ellipse cx="474" cy="492" rx="6" ry="3" fill="#7E9C74"/>
<path d="M447.0,518.0C449.3,514.0 457.3,516.5 459.0,521.0C460.7,525.5 458.0,538.5 457.0,545.0C456.0,551.5 452.7,554.5 453.0,560.0C453.3,565.5 460.0,573.8 459.0,578.0C458.0,582.2 451.2,584.5 447.0,585.0C442.8,585.5 434.8,584.2 434.0,581.0C433.2,577.8 440.2,572.0 442.0,566.0C443.8,560.0 444.2,553.0 445.0,545.0C445.8,537.0 444.7,522.0 447.0,518.0Z" fill="#C5CC88"/>
<ellipse cx="421" cy="544" rx="19" ry="5" fill="#6F9A80"/>
<ellipse cx="521" cy="576" rx="22" ry="25" fill="#3A6048"/>
<ellipse cx="521" cy="580" rx="12" ry="20" fill="#35583F"/>
<ellipse cx="490" cy="560" rx="16" ry="6" fill="#55806A" transform="rotate(10 490 560)"/>
<ellipse cx="505" cy="540" rx="18" ry="5" fill="#2E5038"/>
</g>
<path d="M702.0,222.0C704.8,218.3 709.5,214.3 715.0,212.0C720.5,209.7 727.5,208.5 735.0,208.0C742.5,207.5 752.2,209.0 760.0,209.0C767.8,209.0 775.8,207.2 782.0,208.0C788.2,208.8 793.5,210.0 797.0,214.0C800.5,218.0 801.5,224.8 803.0,232.0C804.5,239.2 806.2,250.7 806.0,257.0C805.8,263.3 804.3,266.7 802.0,270.0C799.7,273.3 796.3,276.7 792.0,277.0C787.7,277.3 781.3,273.8 776.0,272.0C770.7,270.2 765.7,267.7 760.0,266.0C754.3,264.3 748.3,263.7 742.0,262.0C735.7,260.3 728.0,258.7 722.0,256.0C716.0,253.3 710.0,249.7 706.0,246.0C702.0,242.3 698.7,238.0 698.0,234.0C697.3,230.0 699.2,225.7 702.0,222.0Z" fill="#DDE5E7" filter="url(#fBlur3)"/>
<g filter="url(#fRough)">
<path d="M279.8,232.6C279.5,229.0 283.2,225.3 286.0,222.0C288.8,218.7 292.5,216.0 296.8,212.5C301.1,209.0 306.8,204.3 312.0,201.0C317.2,197.7 322.0,195.1 328.0,192.4C334.0,189.7 341.3,187.2 348.0,185.0C354.7,182.8 360.5,181.2 368.3,179.0C376.1,176.8 386.1,174.0 395.0,172.0C403.9,170.0 411.1,167.5 421.9,167.0C432.7,166.5 446.6,168.5 460.0,169.0C473.4,169.5 489.7,170.3 502.2,170.0C514.7,169.7 524.6,167.7 535.0,167.0C545.4,166.3 554.6,165.3 564.8,165.6C575.0,165.9 585.6,167.5 596.0,169.0C606.4,170.5 616.1,172.9 627.3,174.6C638.5,176.3 651.1,177.5 663.0,179.0C674.9,180.5 686.5,181.2 698.8,183.5C711.1,185.8 724.4,189.7 737.0,193.0C749.6,196.3 765.9,200.4 774.7,203.6C783.5,206.8 788.1,207.9 790.0,212.0C791.9,216.1 789.3,223.3 786.0,228.0C782.7,232.7 776.8,236.7 770.0,240.0C763.2,243.3 753.9,246.1 745.0,248.0C736.1,249.9 726.6,249.8 716.6,251.5C706.6,253.2 695.4,256.1 685.0,258.0C674.6,259.9 663.7,261.4 654.0,262.7C644.3,264.0 635.9,265.1 627.0,266.0C618.1,266.9 610.0,267.8 600.5,268.0C591.0,268.2 580.4,267.3 570.0,267.0C559.6,266.7 549.7,265.5 538.0,266.2C526.3,266.9 511.9,269.7 500.0,271.0C488.1,272.3 478.2,273.5 466.5,273.8C454.8,274.1 441.9,273.4 430.0,273.0C418.1,272.6 405.8,272.8 395.0,271.6C384.2,270.4 374.7,267.9 365.0,266.0C355.3,264.1 346.2,262.7 337.0,260.4C327.8,258.1 318.2,254.8 310.0,252.0C301.8,249.2 292.9,247.0 287.9,243.8C282.9,240.6 280.1,236.2 279.8,232.6Z" fill="#6A939F"/>
<ellipse cx="318" cy="204" rx="22" ry="8" fill="#85AEB8" transform="rotate(-28 318 204)"/>
<ellipse cx="365" cy="186" rx="30" ry="7" fill="#85AEB8" transform="rotate(-15 365 186)"/>
<ellipse cx="430" cy="172" rx="36" ry="6" fill="#85AEB8" transform="rotate(-3 430 172)"/>
<ellipse cx="505" cy="174" rx="30" ry="5" fill="#85AEB8" transform="rotate(2 505 174)"/>
<ellipse cx="575" cy="170" rx="22" ry="6" fill="#85AEB8"/>
<ellipse cx="610" cy="176" rx="18" ry="6" fill="#85AEB8" transform="rotate(8 610 176)"/>
<ellipse cx="359" cy="199" rx="19" ry="11" fill="#4A6B76" transform="rotate(-20 359 199)"/>
<ellipse cx="399" cy="203" rx="19" ry="13" fill="#4A6B76" transform="rotate(-10 399 203)"/>
<ellipse cx="440" cy="186" rx="30" ry="9" fill="#4A6B76" transform="rotate(-8 440 186)"/>
<ellipse cx="510" cy="192" rx="28" ry="12" fill="#4A6B76"/>
<ellipse cx="562" cy="192" rx="22" ry="17" fill="#4A6B76"/>
<ellipse cx="600" cy="190" rx="16" ry="9" fill="#4A6B76" transform="rotate(10 600 190)"/>
<ellipse cx="660" cy="192" rx="34" ry="8" fill="#4A6B76" transform="rotate(6 660 192)"/>
<ellipse cx="700" cy="200" rx="18" ry="7" fill="#4A6B76" transform="rotate(12 700 200)"/>
<ellipse cx="330" cy="226" rx="14" ry="8" fill="#4A6B76" transform="rotate(10 330 226)"/>
<ellipse cx="412" cy="232" rx="12" ry="9" fill="#4A6B76"/>
<ellipse cx="452" cy="201" rx="35" ry="8" fill="#1C3038" transform="rotate(-14 452 201)"/>
<ellipse cx="460" cy="183" rx="13" ry="6" fill="#1C3038"/>
<ellipse cx="462" cy="220" rx="5" ry="9" fill="#1C3038" transform="rotate(-10 462 220)"/>
<ellipse cx="505" cy="188" rx="22" ry="6" fill="#1C3038" transform="rotate(-5 505 188)"/>
<ellipse cx="528" cy="199" rx="12" ry="5" fill="#1C3038" transform="rotate(20 528 199)"/>
<ellipse cx="556" cy="186" rx="9" ry="14" fill="#1C3038" transform="rotate(-10 556 186)"/>
<ellipse cx="572" cy="200" rx="10" ry="7" fill="#1C3038" transform="rotate(20 572 200)"/>
<ellipse cx="655" cy="190" rx="22" ry="4" fill="#1C3038" transform="rotate(4 655 190)"/>
<ellipse cx="300" cy="232" rx="16" ry="9" fill="#A9CFD5" transform="rotate(-35 300 232)"/>
<ellipse cx="332" cy="228" rx="16" ry="11" fill="#A9CFD5"/>
<ellipse cx="378" cy="225" rx="26" ry="15" fill="#A9CFD5"/>
<ellipse cx="359" cy="255" rx="31" ry="13" fill="#A9CFD5" transform="rotate(12 359 255)"/>
<ellipse cx="312" cy="246" rx="18" ry="8" fill="#A9CFD5" transform="rotate(25 312 246)"/>
<ellipse cx="565" cy="235" rx="105" ry="34" fill="#A9CFD5"/>
<ellipse cx="690" cy="230" rx="27" ry="20" fill="#9DC0C7" transform="rotate(10 690 230)"/>
<ellipse cx="720" cy="236" rx="16" ry="14" fill="#A5C2C8"/>
<ellipse cx="480" cy="205" rx="20" ry="8" fill="#A9CFD5" transform="rotate(-5 480 205)"/>
<ellipse cx="445" cy="235" rx="10" ry="14" fill="#6A939F" transform="rotate(30 445 235)"/>
<ellipse cx="405" cy="252" rx="10" ry="10" fill="#6A939F"/>
<ellipse cx="442" cy="248" rx="35" ry="11" fill="#D8E8E8" transform="rotate(36 442 248)"/>
<ellipse cx="494" cy="257" rx="17" ry="11" fill="#CBE8EA"/>
<ellipse cx="487" cy="221" rx="24" ry="15" fill="#CBE8EA" transform="rotate(-10 487 221)"/>
<ellipse cx="527" cy="225" rx="14" ry="15" fill="#CBE8EA"/>
<ellipse cx="568" cy="234" rx="23" ry="19" fill="#CBE8EA"/>
<ellipse cx="623" cy="235" rx="27" ry="22" fill="#CBE8EA" transform="rotate(-25 623 235)"/>
<ellipse cx="640" cy="210" rx="22" ry="12" fill="#CBE8EA" transform="rotate(-20 640 210)"/>
<ellipse cx="352" cy="258" rx="18" ry="7" fill="#BEDCE0" transform="rotate(12 352 258)"/>
<ellipse cx="508" cy="232" rx="4" ry="18" fill="#A9CFD5" transform="rotate(-20 508 232)"/>
<ellipse cx="545" cy="240" rx="4" ry="16" fill="#A9CFD5" transform="rotate(15 545 240)"/>
<ellipse cx="596" cy="232" rx="4" ry="20" fill="#A9CFD5" transform="rotate(10 596 232)"/>
<path d="M702.0,222.0C704.8,218.3 709.5,214.3 715.0,212.0C720.5,209.7 727.5,208.5 735.0,208.0C742.5,207.5 752.2,209.0 760.0,209.0C767.8,209.0 775.8,207.2 782.0,208.0C788.2,208.8 793.5,210.0 797.0,214.0C800.5,218.0 801.5,224.8 803.0,232.0C804.5,239.2 806.2,250.7 806.0,257.0C805.8,263.3 804.3,266.7 802.0,270.0C799.7,273.3 796.3,276.7 792.0,277.0C787.7,277.3 781.3,273.8 776.0,272.0C770.7,270.2 765.7,267.7 760.0,266.0C754.3,264.3 748.3,263.7 742.0,262.0C735.7,260.3 728.0,258.7 722.0,256.0C716.0,253.3 710.0,249.7 706.0,246.0C702.0,242.3 698.7,238.0 698.0,234.0C697.3,230.0 699.2,225.7 702.0,222.0Z" fill="#B4C8CD"/>
<path d="M735.0,222.0C739.7,218.2 751.7,216.3 760.0,215.0C768.3,213.7 778.7,212.3 785.0,214.0C791.3,215.7 795.2,219.0 798.0,225.0C800.8,231.0 802.0,242.8 802.0,250.0C802.0,257.2 800.8,265.0 798.0,268.0C795.2,271.0 790.5,269.7 785.0,268.0C779.5,266.3 771.7,261.0 765.0,258.0C758.3,255.0 750.5,253.3 745.0,250.0C739.5,246.7 733.7,242.7 732.0,238.0C730.3,233.3 730.3,225.8 735.0,222.0Z" fill="#D2DCDE"/>
</g>
<path d="M585.0,2210.5C586.0,2206.5 589.8,2199.2 594.0,2193.5C598.2,2187.8 604.0,2180.1 610.0,2176.6C616.0,2173.1 621.5,2174.1 629.8,2172.6C638.1,2171.1 653.1,2169.1 659.7,2167.6C666.4,2166.1 665.1,2163.6 669.7,2163.6C674.4,2163.6 683.3,2164.3 687.6,2167.6C691.9,2170.9 693.0,2178.2 695.6,2183.5C698.2,2188.8 701.5,2194.5 703.5,2199.5C705.5,2204.5 707.5,2209.8 707.5,2213.4C707.5,2217.1 707.5,2218.7 703.5,2221.4C699.5,2224.1 690.9,2225.7 683.6,2229.4C676.3,2233.1 667.7,2238.9 659.7,2243.4C651.7,2247.9 642.3,2253.2 635.8,2256.3C629.3,2259.5 623.5,2262.8 620.8,2262.3C618.1,2261.8 622.0,2256.5 619.8,2253.3C617.6,2250.2 611.1,2247.1 607.8,2243.4C604.5,2239.8 603.2,2235.7 599.9,2231.4C596.6,2227.1 590.4,2220.9 587.9,2217.4C585.4,2213.9 584.0,2214.5 585.0,2210.5Z" fill="url(#gSrc)"/>
<path d="M671.6,2235.0C671.8,2242.5 672.9,2268.3 673.0,2280.0C673.1,2291.7 671.7,2296.5 672.0,2305.0C672.3,2313.5 674.2,2326.7 674.6,2331.0" fill="none" stroke="#9AF8F8" stroke-width="6" stroke-linecap="round"/>
<path d="M692.6,2227.0C692.5,2232.5 692.3,2249.7 692.0,2260.0C691.7,2270.3 689.7,2279.7 690.6,2289.0C691.5,2298.3 696.4,2311.5 697.6,2316.0" fill="none" stroke="#9AF8F8" stroke-width="6" stroke-linecap="round"/>
<path d="M761.0,2286.4L754.5,2298.7L748.2,2308.7L741.5,2318.7L736.4,2332.3L739.6,2333.7L745.9,2321.3L753.6,2312.7L761.5,2303.3L769.6,2291.6Z" fill="#8AE8EE" stroke="#8AE8EE" stroke-width="1.6" stroke-linejoin="round"/>
<path d="M719.9,2329.8L731.7,2315.5L744.4,2299.4L743.0,2298.0L728.3,2312.5L714.9,2325.0Z" fill="#A6DCF6" stroke="#A6DCF6" stroke-width="1.6" stroke-linejoin="round"/>
<path d="M748.2,2312.0L753.2,2318.6L758.5,2324.5L762.5,2320.7L756.8,2315.4L751.2,2309.4Z" fill="#8AE8EE" stroke="#8AE8EE" stroke-width="1.6" stroke-linejoin="round"/>
<path d="M688.7,2357.4L710.8,2350.4L734.6,2343.8L733.8,2339.8L709.2,2343.6L686.3,2347.6Z" fill="#8AE8EE" stroke="#8AE8EE" stroke-width="1.6" stroke-linejoin="round"/>
<path d="M734.5,2338.6L749.5,2345.0L764.3,2351.0L766.3,2347.0L752.5,2339.0L738.7,2330.6Z" fill="#8AE8EE" stroke="#8AE8EE" stroke-width="1.6" stroke-linejoin="round"/>
<path d="M763.9,2350.8L776.1,2359.3L788.7,2366.5L789.7,2364.9L777.9,2356.7L766.7,2347.2Z" fill="#B4C8FC" stroke="#B4C8FC" stroke-width="1.6" stroke-linejoin="round"/>
<path d="M715.2,2335.5L715.7,2344.2L715.9,2349.9L706.4,2359.7L711.6,2364.3L721.3,2352.7L721.1,2343.8L719.6,2334.9Z" fill="#8AE8EE" stroke="#8AE8EE" stroke-width="1.6" stroke-linejoin="round"/>
<path d="M708.2,2366.3L725.1,2363.7L744.3,2364.4L761.9,2354.2L771.6,2341.8L768.4,2339.4L759.1,2350.8L743.1,2359.6L724.9,2358.3L707.4,2360.3Z" fill="#8AE8EE" stroke="#8AE8EE" stroke-width="1.6" stroke-linejoin="round"/>
<path d="M743.4,2361.5L757.8,2373.4L773.1,2386.6L776.5,2383.0L762.2,2368.6L748.8,2355.5Z" fill="#A6DCF6" stroke="#A6DCF6" stroke-width="1.6" stroke-linejoin="round"/>
<path d="M735.7,2344.1L741.5,2345.9L747.9,2346.0L748.1,2343.0L742.5,2342.1L737.5,2339.5Z" fill="#B4C8FC" stroke="#B4C8FC" stroke-width="1.6" stroke-linejoin="round"/>
<path d="M749.2,2367.4L755.6,2373.4L761.9,2378.8L763.9,2376.6L758.4,2370.6L752.8,2364.0Z" fill="#B4C8FC" stroke="#B4C8FC" stroke-width="1.6" stroke-linejoin="round"/>
<path d="M770.4,2341.8L773.8,2338.1L768.2,2333.9L765.6,2338.2Z" fill="#8AE8EE" stroke="#8AE8EE" stroke-width="1.6" stroke-linejoin="round"/>
<path d="M0,-9 C3,-6 7,1 7,5 C5,9 -4,9 -7,5 C-6,0 -3,-5 0,-9Z" fill="url(#gDrop)" transform="translate(706.5,2297.5) rotate(10)"/>
<path d="M0,-9 C3,-6 7,1 7,5 C5,9 -4,9 -7,5 C-6,0 -3,-5 0,-9Z" fill="url(#gDrop)" transform="translate(685.2,2307.5) rotate(10)"/>
<path d="M0,-9 C3,-6 7,1 7,5 C5,9 -4,9 -7,5 C-6,0 -3,-5 0,-9Z" fill="url(#gDrop)" transform="translate(680.2,2333.5) rotate(10)"/>
<path d="M644.0,2075.0C641.3,2079.0 644.1,2087.4 642.7,2099.8C641.3,2112.2 638.3,2133.0 635.8,2149.6C633.3,2166.2 629.6,2184.5 627.8,2199.5C626.0,2214.5 624.9,2230.7 624.8,2239.4C624.7,2248.2 626.0,2248.8 627.0,2252.0C628.0,2255.2 629.6,2258.6 630.8,2258.3C632.0,2258.0 633.2,2253.2 634.0,2250.0C634.8,2246.8 634.5,2248.5 635.8,2239.4C637.1,2230.3 639.3,2209.6 641.7,2195.5C644.1,2181.4 647.3,2167.6 650.0,2155.0C652.7,2142.4 656.0,2129.7 657.7,2119.7C659.4,2109.7 659.8,2102.3 660.0,2095.0C660.2,2087.7 661.4,2079.2 658.7,2075.9C656.0,2072.6 646.7,2071.0 644.0,2075.0Z" fill="url(#gTail)"/>
<path d="M657.0,2100.0C655.6,2103.3 660.9,2101.5 659.7,2109.8C658.5,2118.1 653.0,2135.7 650.0,2150.0C647.0,2164.3 642.5,2183.8 641.7,2195.5C640.9,2207.2 643.7,2212.7 645.0,2220.0C646.3,2227.3 647.9,2229.5 649.7,2239.4C651.5,2249.3 654.5,2267.5 655.7,2279.3C656.9,2291.1 656.6,2302.2 657.0,2310.0C657.4,2317.8 656.7,2325.7 658.0,2326.0C659.3,2326.3 662.6,2316.8 665.0,2312.0C667.4,2307.2 672.1,2306.0 672.6,2297.2C673.1,2288.4 669.5,2272.3 667.7,2259.3C665.9,2246.3 663.0,2232.7 661.7,2219.4C660.4,2206.1 659.4,2189.6 659.7,2179.6C660.0,2169.6 662.3,2169.5 663.7,2159.6C665.1,2149.7 667.3,2131.6 668.0,2120.0C668.7,2108.4 669.8,2093.3 668.0,2090.0C666.2,2086.7 658.4,2096.7 657.0,2100.0Z" fill="url(#gTail)"/>
<path d="M664.0,2075.0C664.9,2086.6 671.8,2105.6 673.6,2119.7C675.4,2133.8 674.1,2146.3 674.6,2159.6C675.1,2172.9 675.4,2186.2 676.6,2199.5C677.8,2212.8 679.3,2226.1 681.6,2239.4C683.9,2252.7 688.6,2270.6 690.6,2279.2C692.6,2287.8 693.4,2292.7 693.6,2291.2C693.8,2289.7 692.7,2278.6 692.0,2270.0C691.3,2261.4 690.5,2251.2 689.6,2239.4C688.7,2227.7 687.3,2215.4 686.6,2199.5C685.9,2183.6 685.0,2154.8 685.6,2143.7C686.2,2132.6 688.7,2136.0 690.0,2133.0C691.3,2130.0 693.0,2129.5 693.2,2125.7C693.4,2121.9 691.9,2114.3 691.0,2110.0C690.1,2105.7 689.3,2105.6 687.6,2099.8C685.9,2094.0 683.0,2081.6 681.0,2075.0C679.0,2068.4 677.8,2064.2 675.6,2060.0C673.4,2055.8 669.9,2047.5 668.0,2050.0C666.1,2052.5 663.1,2063.4 664.0,2075.0Z" fill="url(#gTail)"/>
<path d="M641.0,1740.0C638.5,1745.0 642.0,1760.0 642.7,1770.0C643.4,1780.0 644.1,1786.7 645.0,1800.0C645.9,1813.3 647.2,1836.7 648.0,1850.0C648.8,1863.3 649.3,1864.8 650.0,1880.0C650.7,1895.2 650.8,1921.0 652.0,1941.0C653.2,1961.0 655.3,1980.8 657.0,2000.0C658.7,2019.2 660.8,2039.3 662.0,2056.0C663.2,2072.7 664.0,2086.0 664.5,2100.0C665.0,2114.0 665.0,2129.7 665.0,2140.0C665.0,2150.3 664.5,2158.3 664.7,2162.0C664.9,2165.7 664.6,2165.7 666.0,2162.0C667.4,2158.3 671.6,2150.3 673.0,2140.0C674.4,2129.7 674.2,2114.0 674.3,2100.0C674.3,2086.0 674.2,2072.7 673.3,2056.0C672.4,2039.3 670.5,2019.2 669.0,2000.0C667.5,1980.8 665.0,1961.0 664.0,1941.0C663.0,1921.0 663.3,1895.2 663.0,1880.0C662.7,1864.8 662.3,1863.3 662.0,1850.0C661.7,1836.7 661.3,1813.3 661.0,1800.0C660.7,1786.7 660.5,1780.0 660.0,1770.0C659.5,1760.0 661.2,1745.0 658.0,1740.0C654.8,1735.0 643.5,1735.0 641.0,1740.0Z" fill="#FF2A2A" opacity="0.9"/>
<path d="M659.0,1760.0C657.7,1767.8 660.1,1792.7 660.9,1807.0C661.7,1821.3 662.4,1834.8 663.7,1845.7C665.0,1856.6 666.9,1863.6 668.5,1872.5C670.1,1881.4 671.2,1892.6 673.3,1899.0C675.4,1905.4 678.6,1907.0 681.0,1910.8C683.4,1914.6 686.0,1919.5 687.7,1922.0C689.5,1924.5 690.4,1925.7 691.5,1926.0C692.6,1926.3 693.8,1925.3 694.4,1924.0C695.0,1922.7 695.9,1921.2 695.3,1918.4C694.6,1915.6 692.6,1911.5 690.5,1907.0C688.4,1902.5 685.3,1898.0 682.9,1891.6C680.5,1885.2 677.5,1876.3 676.2,1868.7C674.9,1861.1 676.0,1856.0 675.2,1845.7C674.4,1835.4 672.5,1821.3 671.4,1807.0C670.3,1792.7 670.6,1767.8 668.5,1760.0C666.4,1752.2 660.3,1752.2 659.0,1760.0Z" fill="#FF3A3A" opacity="0.85"/>
<path d="M419.8,1072.0C420.1,1070.8 423.0,1069.9 425.0,1069.5C427.0,1069.1 428.5,1068.5 431.8,1069.4C435.1,1070.3 441.0,1073.2 445.0,1075.0C449.0,1076.8 451.9,1079.1 455.7,1080.0C459.5,1080.9 464.0,1081.1 468.0,1080.5C472.0,1079.9 474.8,1078.3 479.6,1076.6C484.4,1074.8 491.9,1072.2 497.0,1070.0C502.1,1067.8 507.2,1064.7 510.0,1063.5C512.8,1062.3 513.2,1062.3 514.0,1063.0C514.8,1063.7 515.5,1065.7 514.5,1067.5C513.5,1069.3 510.6,1071.9 508.0,1074.0C505.4,1076.1 501.7,1077.8 499.0,1080.0C496.3,1082.2 493.0,1083.7 492.0,1087.0C491.0,1090.3 492.2,1093.0 493.0,1100.0C493.8,1107.0 495.5,1118.6 497.0,1129.0C498.5,1139.4 500.5,1153.2 502.0,1162.5C503.5,1171.8 504.9,1179.1 506.0,1185.0C507.1,1190.9 508.7,1193.0 508.4,1198.0C508.1,1203.0 505.7,1209.5 504.0,1215.0C502.3,1220.5 499.9,1226.0 498.2,1231.0C496.5,1236.0 494.9,1240.7 494.0,1245.0C493.1,1249.3 492.9,1248.7 493.0,1257.0C493.1,1265.3 493.3,1282.8 494.4,1295.0C495.5,1307.2 497.7,1317.2 499.5,1330.0C501.3,1342.8 503.2,1360.0 505.0,1371.7C506.8,1383.4 508.8,1388.6 510.5,1400.0C512.2,1411.4 512.2,1417.7 515.0,1440.0C517.8,1462.3 522.4,1496.0 527.2,1534.0C532.0,1572.0 537.8,1622.5 544.0,1668.0C550.2,1713.5 559.0,1771.7 564.2,1807.0C569.4,1842.3 572.2,1857.7 575.4,1880.0C578.6,1902.3 581.3,1921.2 583.3,1941.0C585.3,1960.8 586.5,1979.8 587.5,1999.0C588.5,2018.2 588.7,2042.7 589.0,2056.0C589.3,2069.3 589.0,2070.0 589.5,2079.0C590.0,2088.0 590.8,2098.2 592.0,2110.0C593.2,2121.8 594.7,2137.5 597.0,2150.0C599.3,2162.5 603.0,2175.8 606.0,2185.0C609.0,2194.2 612.8,2199.7 615.0,2205.0C617.2,2210.3 619.7,2215.8 619.5,2217.0C619.3,2218.2 616.2,2215.2 614.0,2212.0C611.8,2208.8 608.3,2203.3 606.0,2198.0C603.7,2192.7 601.3,2180.5 600.0,2180.0C598.7,2179.5 597.3,2190.8 598.0,2195.0C598.7,2199.2 602.5,2202.8 604.0,2205.0C605.5,2207.2 607.5,2208.3 607.0,2208.0C606.5,2207.7 603.2,2206.8 601.0,2203.0C598.8,2199.2 596.0,2192.3 594.0,2185.0C592.0,2177.7 590.8,2169.8 589.0,2159.0C587.2,2148.2 585.0,2131.5 583.0,2120.0C581.0,2108.5 578.3,2096.8 577.0,2090.0C575.7,2083.2 575.6,2084.7 575.4,2079.0C575.2,2073.3 575.5,2069.3 575.7,2056.0C575.9,2042.7 577.8,2018.2 576.8,1999.0C575.8,1979.8 572.2,1960.8 570.0,1941.0C567.8,1921.2 566.1,1902.3 563.4,1880.0C560.7,1857.7 559.0,1842.3 553.7,1807.0C548.4,1771.7 537.9,1713.5 531.6,1668.0C525.3,1622.5 520.3,1572.0 516.0,1534.0C511.7,1496.0 508.4,1462.3 506.0,1440.0C503.6,1417.7 502.8,1411.4 501.5,1400.0C500.2,1388.6 499.6,1383.4 498.0,1371.7C496.4,1360.0 493.9,1342.8 492.0,1330.0C490.1,1317.2 488.1,1307.2 486.8,1295.0C485.5,1282.8 484.4,1267.7 484.2,1257.0C484.0,1246.3 484.2,1238.8 485.5,1231.0C486.8,1223.2 490.5,1215.5 492.0,1210.0C493.5,1204.5 494.9,1205.9 494.4,1198.0C493.9,1190.1 490.7,1174.0 489.0,1162.5C487.3,1151.0 485.8,1139.4 484.0,1129.0C482.2,1118.6 479.8,1106.5 478.0,1100.0C476.2,1093.5 475.5,1091.5 473.0,1090.0C470.5,1088.5 467.0,1091.5 462.9,1091.0C458.8,1090.5 453.7,1089.2 448.5,1087.3C443.3,1085.4 436.1,1081.2 431.8,1079.5C427.6,1077.8 425.0,1078.2 423.0,1077.0C421.0,1075.8 419.5,1073.2 419.8,1072.0Z" fill="#FF0A14"/>
<path d="M0.0,-12.5L7.5,-5.6L7.5,5.6L0.0,12.5L-7.5,5.6L-7.5,-5.6Z" fill="#0F6B12" transform="translate(410.0,1664.0) rotate(0)"/>
<path d="M0.0,-12.5L7.5,-5.6L7.5,5.6L0.0,12.5L-7.5,5.6L-7.5,-5.6Z" fill="#0F6B12" transform="translate(488.5,1672.5) rotate(0)"/>
<path d="M0.0,-12.5L7.5,-5.6L7.5,5.6L0.0,12.5L-7.5,5.6L-7.5,-5.6Z" fill="#0F6B12" transform="translate(691.0,1727.5) rotate(0)"/>
<path d="M0.0,-12.5L7.5,-5.6L7.5,5.6L0.0,12.5L-7.5,5.6L-7.5,-5.6Z" fill="#0F6B12" transform="translate(723.5,1728.5) rotate(0)"/>
<path d="M0.0,-9.0L7.0,-4.0L7.0,4.0L0.0,9.0L-7.0,4.0L-7.0,-4.0Z" fill="#0F6B12" transform="translate(644.0,1727.0) rotate(0)"/>
<path d="M0.0,-12.5L7.5,-5.6L7.5,5.6L0.0,12.5L-7.5,5.6L-7.5,-5.6Z" fill="#0F6B12" transform="translate(634.0,1782.5) rotate(0)"/>
<path d="M0.0,-12.5L7.5,-5.6L7.5,5.6L0.0,12.5L-7.5,5.6L-7.5,-5.6Z" fill="#0F6B12" transform="translate(597.0,1800.0) rotate(0)"/>
<path d="M0.0,-5.5L3.5,-2.5L3.5,2.5L0.0,5.5L-3.5,2.5L-3.5,-2.5Z" fill="#0F6B12" transform="translate(549.5,1647.5) rotate(0)"/>
<path d="M0.0,-5.5L3.5,-2.5L3.5,2.5L0.0,5.5L-3.5,2.5L-3.5,-2.5Z" fill="#0F6B12" transform="translate(622.5,1651.0) rotate(0)"/>
<path d="M0.0,-5.5L3.5,-2.5L3.5,2.5L0.0,5.5L-3.5,2.5L-3.5,-2.5Z" fill="#0F6B12" transform="translate(607.0,1685.5) rotate(0)"/>
<path d="M0.0,-5.5L3.5,-2.5L3.5,2.5L0.0,5.5L-3.5,2.5L-3.5,-2.5Z" fill="#0F6B12" transform="translate(685.5,1681.0) rotate(0)"/>
<path d="M0.0,-5.5L3.5,-2.5L3.5,2.5L0.0,5.5L-3.5,2.5L-3.5,-2.5Z" fill="#0F6B12" transform="translate(592.5,1735.0) rotate(0)"/>
<path d="M0.0,-5.5L3.5,-2.5L3.5,2.5L0.0,5.5L-3.5,2.5L-3.5,-2.5Z" fill="#0F6B12" transform="translate(571.0,1777.0) rotate(0)"/>
<path d="M0.0,-5.5L3.5,-2.5L3.5,2.5L0.0,5.5L-3.5,2.5L-3.5,-2.5Z" fill="#0F6B12" transform="translate(580.0,1792.5) rotate(0)"/>
<path d="M0.0,-8.5L4.0,-3.8L4.0,3.8L0.0,8.5L-4.0,3.8L-4.0,-3.8Z" fill="#7CF87C" transform="translate(399.0,1561.0) rotate(-25)"/>
<path d="M0.0,-8.5L4.0,-3.8L4.0,3.8L0.0,8.5L-4.0,3.8L-4.0,-3.8Z" fill="#7CF87C" transform="translate(388.0,1633.5) rotate(-30)"/>
<path d="M0.0,-8.5L4.0,-3.8L4.0,3.8L0.0,8.5L-4.0,3.8L-4.0,-3.8Z" fill="#7CF87C" transform="translate(468.0,1629.0) rotate(-30)"/>
<path d="M0.0,-8.5L4.0,-3.8L4.0,3.8L0.0,8.5L-4.0,3.8L-4.0,-3.8Z" fill="#7CF87C" transform="translate(461.5,1720.0) rotate(-25)"/>
<path d="M0.0,-8.5L4.0,-3.8L4.0,3.8L0.0,8.5L-4.0,3.8L-4.0,-3.8Z" fill="#7CF87C" transform="translate(495.0,1745.0) rotate(-25)"/>
<path d="M0.0,-8.5L4.0,-3.8L4.0,3.8L0.0,8.5L-4.0,3.8L-4.0,-3.8Z" fill="#7CF87C" transform="translate(420.3,1522.0) rotate(-30)"/>
<path d="M0.0,-15.0L7.0,-6.8L7.0,6.8L0.0,15.0L-7.0,6.8L-7.0,-6.8Z" fill="#4A3CFF" transform="translate(522.5,1662.5) rotate(-38)"/>
<path d="M0.0,-8.0L4.5,-3.6L4.5,3.6L0.0,8.0L-4.5,3.6L-4.5,-3.6Z" fill="#4A3CFF" transform="translate(432.5,1671.0) rotate(-35)"/>
<path d="M0.0,-8.0L4.5,-3.6L4.5,3.6L0.0,8.0L-4.5,3.6L-4.5,-3.6Z" fill="#4A3CFF" transform="translate(519.0,1712.5) rotate(-30)"/>
<path d="M0.0,-13.0L5.5,-5.9L5.5,5.9L0.0,13.0L-5.5,5.9L-5.5,-5.9Z" fill="#4A3CFF" transform="translate(477.0,1754.4) rotate(-38)"/>
<path d="M0.0,-13.0L5.5,-5.9L5.5,5.9L0.0,13.0L-5.5,5.9L-5.5,-5.9Z" fill="#4A3CFF" transform="translate(607.6,1769.7) rotate(-38)"/>
<path d="M0.0,-8.0L4.5,-3.6L4.5,3.6L0.0,8.0L-4.5,3.6L-4.5,-3.6Z" fill="#4A3CFF" transform="translate(620.0,1722.5) rotate(-35)"/>
<path d="M0.0,-7.0L4.5,-3.1L4.5,3.1L0.0,7.0L-4.5,3.1L-4.5,-3.1Z" fill="#4A3CFF" transform="translate(655.0,1685.0) rotate(-35)"/>
<path d="M0.0,-7.0L4.0,-3.1L4.0,3.1L0.0,7.0L-4.0,3.1L-4.0,-3.1Z" fill="#4A3CFF" transform="translate(731.5,1675.0) rotate(-35)"/>
<rect x="382.5" y="1652.0" width="13" height="14" rx="3" fill="#3E1E08" stroke="#7A4620" stroke-width="2.4"/>
<rect x="488.5" y="1714.5" width="13" height="14" rx="3" fill="#3E1E08" stroke="#7A4620" stroke-width="2.4"/>
<rect x="518.5" y="1740.5" width="13" height="14" rx="3" fill="#3E1E08" stroke="#7A4620" stroke-width="2.4"/>
<rect x="564.5" y="1672.0" width="13" height="14" rx="3" fill="#3E1E08" stroke="#7A4620" stroke-width="2.4"/>
<rect x="567.5" y="1709.0" width="13" height="14" rx="3" fill="#3E1E08" stroke="#7A4620" stroke-width="2.4"/>
<rect x="617.5" y="1667.0" width="13" height="14" rx="3" fill="#3E1E08" stroke="#7A4620" stroke-width="2.4"/>
<rect x="643.5" y="1666.5" width="13" height="14" rx="3" fill="#3E1E08" stroke="#7A4620" stroke-width="2.4"/>
<rect x="672.5" y="1669.0" width="13" height="14" rx="3" fill="#3E1E08" stroke="#7A4620" stroke-width="2.4"/>
<rect x="696.0" y="1663.0" width="13" height="14" rx="3" fill="#3E1E08" stroke="#7A4620" stroke-width="2.4"/>
<rect x="612.0" y="1737.0" width="13" height="14" rx="3" fill="#3E1E08" stroke="#7A4620" stroke-width="2.4"/>
<rect x="574.5" y="1808.0" width="13" height="14" rx="3" fill="#3E1E08" stroke="#7A4620" stroke-width="2.4"/>
<rect x="-7.2" y="-2.5" width="14.5" height="5" fill="#B4B4B4" stroke="#000" stroke-width="2.0" transform="translate(367.0,1657.0) rotate(-15)"/>
<rect x="-7.2" y="-2.5" width="14.5" height="5" fill="#B4B4B4" stroke="#000" stroke-width="2.0" transform="translate(445.5,1652.0) rotate(-15)"/>
<rect x="-7.2" y="-2.5" width="14.5" height="5" fill="#B4B4B4" stroke="#000" stroke-width="2.0" transform="translate(514.0,1677.5) rotate(-60)"/>
<rect x="-7.2" y="-2.5" width="14.5" height="5" fill="#B4B4B4" stroke="#000" stroke-width="2.0" transform="translate(567.5,1665.0) rotate(-60)"/>
<rect x="-7.2" y="-2.5" width="14.5" height="5" fill="#B4B4B4" stroke="#000" stroke-width="2.0" transform="translate(500.0,1703.0) rotate(3)"/>
<rect x="-7.2" y="-2.5" width="14.5" height="5" fill="#B4B4B4" stroke="#000" stroke-width="2.0" transform="translate(540.0,1713.0) rotate(25)"/>
<rect x="-7.2" y="-2.5" width="14.5" height="5" fill="#B4B4B4" stroke="#000" stroke-width="2.0" transform="translate(569.0,1704.5) rotate(5)"/>
<rect x="-7.2" y="-2.5" width="14.5" height="5" fill="#B4B4B4" stroke="#000" stroke-width="2.0" transform="translate(607.0,1704.0) rotate(25)"/>
<rect x="-7.2" y="-2.5" width="14.5" height="5" fill="#B4B4B4" stroke="#000" stroke-width="2.0" transform="translate(648.0,1700.5) rotate(5)"/>
<rect x="-7.2" y="-2.5" width="14.5" height="5" fill="#B4B4B4" stroke="#000" stroke-width="2.0" transform="translate(682.0,1704.0) rotate(25)"/>
<rect x="-7.2" y="-2.5" width="14.5" height="5" fill="#B4B4B4" stroke="#000" stroke-width="2.0" transform="translate(468.5,1732.5) rotate(0)"/>
<rect x="-7.2" y="-2.5" width="14.5" height="5" fill="#B4B4B4" stroke="#000" stroke-width="2.0" transform="translate(606.0,1825.5) rotate(5)"/>
<rect x="-7.2" y="-2.5" width="14.5" height="5" fill="#B4B4B4" stroke="#000" stroke-width="2.0" transform="translate(610.0,1857.0) rotate(25)"/>
<path d="M422.9,1679.0L439.1,1679.0L444.5,1684.4L444.5,1703.6L439.1,1709.0L422.9,1709.0L417.5,1703.6L417.5,1684.4Z" fill="#0a0a0a" stroke="#000" stroke-width="1" stroke-linejoin="round"/>
<path d="M426.7,1685.8L435.3,1685.8L437.8,1688.2L437.8,1699.8L435.3,1702.2L426.7,1702.2L424.2,1699.8L424.2,1688.2Z" fill="#3A1C0A" stroke="#1a0c06" stroke-width="1.2" stroke-linejoin="round"/>
<path d="M456.9,1674.0L473.1,1674.0L478.5,1679.4L478.5,1698.6L473.1,1704.0L456.9,1704.0L451.5,1698.6L451.5,1679.4Z" fill="#0a0a0a" stroke="#000" stroke-width="1" stroke-linejoin="round"/>
<path d="M460.7,1680.8L469.3,1680.8L471.8,1683.2L471.8,1694.8L469.3,1697.2L460.7,1697.2L458.2,1694.8L458.2,1683.2Z" fill="#3A1C0A" stroke="#1a0c06" stroke-width="1.2" stroke-linejoin="round"/>
<path d="M535.6,1669.5L552.4,1669.5L558.0,1675.1L558.0,1694.9L552.4,1700.5L535.6,1700.5L530.0,1694.9L530.0,1675.1Z" fill="#0a0a0a" stroke="#000" stroke-width="1" stroke-linejoin="round"/>
<path d="M539.5,1676.5L548.5,1676.5L551.0,1679.0L551.0,1691.0L548.5,1693.5L539.5,1693.5L537.0,1691.0L537.0,1679.0Z" fill="#3A1C0A" stroke="#1a0c06" stroke-width="1.2" stroke-linejoin="round"/>
<path d="M560.6,1734.5L577.4,1734.5L583.0,1740.1L583.0,1759.9L577.4,1765.5L560.6,1765.5L555.0,1759.9L555.0,1740.1Z" fill="#0a0a0a" stroke="#000" stroke-width="1" stroke-linejoin="round"/>
<path d="M564.5,1741.5L573.5,1741.5L576.0,1744.0L576.0,1756.0L573.5,1758.5L564.5,1758.5L562.0,1756.0L562.0,1744.0Z" fill="#3A1C0A" stroke="#1a0c06" stroke-width="1.2" stroke-linejoin="round"/>
<path d="M639.1,1729.5L655.9,1729.5L661.5,1735.1L661.5,1754.9L655.9,1760.5L639.1,1760.5L633.5,1754.9L633.5,1735.1Z" fill="#0a0a0a" stroke="#000" stroke-width="1" stroke-linejoin="round"/>
<path d="M643.0,1736.5L652.0,1736.5L654.5,1739.0L654.5,1751.0L652.0,1753.5L643.0,1753.5L640.5,1751.0L640.5,1739.0Z" fill="#3A1C0A" stroke="#1a0c06" stroke-width="1.2" stroke-linejoin="round"/>
<path d="M750.6,1725.0L761.4,1725.0L765.0,1728.6L765.0,1741.4L761.4,1745.0L750.6,1745.0L747.0,1741.4L747.0,1728.6Z" fill="#0a0a0a" stroke="#000" stroke-width="1" stroke-linejoin="round"/>
<path d="M753.1,1729.5L758.9,1729.5L760.5,1731.1L760.5,1738.9L758.9,1740.5L753.1,1740.5L751.5,1738.9L751.5,1731.1Z" fill="#3A1C0A" stroke="#1a0c06" stroke-width="1.2" stroke-linejoin="round"/>
<path d="M41.0,2181.5C50.8,2181.2 86.0,2180.9 100.0,2180.0C114.0,2179.1 116.7,2178.3 125.0,2176.0C133.3,2173.7 141.7,2168.8 150.0,2166.0C158.3,2163.2 165.0,2162.9 175.0,2159.0C185.0,2155.1 199.2,2147.5 210.0,2142.5C220.8,2137.5 229.2,2132.6 240.0,2129.0C250.8,2125.4 260.8,2122.8 275.0,2121.0C289.2,2119.2 310.8,2119.5 325.0,2118.5C339.2,2117.5 350.0,2116.6 360.0,2115.0C370.0,2113.4 378.3,2111.9 385.0,2109.0C391.7,2106.1 394.2,2102.3 400.0,2097.5C405.8,2092.7 411.7,2085.2 420.0,2080.0C428.3,2074.8 443.3,2068.1 450.0,2066.0C456.7,2063.9 454.2,2068.9 460.0,2067.5C465.8,2066.1 478.3,2059.6 485.0,2057.5C491.7,2055.4 495.4,2056.2 500.0,2055.0C504.6,2053.8 509.2,2050.2 512.5,2050.0C515.8,2049.8 517.2,2053.6 520.0,2054.0C522.8,2054.4 526.5,2054.2 529.0,2052.5C531.5,2050.8 531.5,2046.4 535.0,2044.0C538.5,2041.6 545.0,2038.7 550.0,2038.0C555.0,2037.3 560.0,2038.7 565.0,2040.0C570.0,2041.3 574.2,2045.0 580.0,2046.0C585.8,2047.0 592.2,2044.8 600.0,2046.0C607.8,2047.2 614.5,2050.4 627.0,2053.0C639.5,2055.6 659.7,2057.7 675.0,2061.4C690.3,2065.1 705.7,2071.5 719.0,2075.4C732.3,2079.3 745.3,2082.2 755.0,2085.0C764.7,2087.8 770.0,2088.8 777.0,2092.5C784.0,2096.2 784.5,2102.9 797.0,2107.5C809.5,2112.1 830.3,2116.1 852.0,2120.0C873.7,2123.9 911.3,2128.5 927.0,2131.0C942.7,2133.5 946.0,2132.7 946.0,2135.0C946.0,2137.3 936.8,2142.7 927.0,2145.0C917.2,2147.3 903.7,2148.3 887.0,2149.0C870.3,2149.7 841.2,2147.2 827.0,2149.0C812.8,2150.8 810.3,2154.0 802.0,2160.0C793.7,2166.0 789.5,2172.5 777.0,2185.0C764.5,2197.5 743.7,2218.3 727.0,2235.0C710.3,2251.7 689.5,2270.0 677.0,2285.0C664.5,2300.0 657.0,2314.2 652.0,2325.0C647.0,2335.8 646.6,2340.0 647.0,2350.0C647.4,2360.0 651.6,2374.2 654.5,2385.0C657.4,2395.8 663.2,2406.7 664.5,2415.0C665.8,2423.3 663.1,2429.8 662.0,2435.0C660.9,2440.2 658.7,2444.2 658.0,2446.0" fill="none" stroke="#000" stroke-width="2.3"/>
<path d="M658.0,2446.0C680.5,2446.1 781.8,2446.4 827.0,2446.5C872.2,2446.6 972.3,2447.0 997.0,2446.5C1021.7,2446.0 1009.5,2444.7 1012.0,2442.5C1014.5,2440.3 1015.5,2435.7 1016.0,2430.0C1016.5,2424.3 1014.5,2408.0 1016.0,2400.0C1017.5,2392.0 1022.9,2378.7 1027.0,2370.0C1031.1,2361.3 1043.3,2342.3 1047.0,2335.0C1050.7,2327.7 1053.8,2320.3 1054.5,2315.0C1055.2,2309.7 1052.7,2300.3 1052.0,2295.0C1051.3,2289.7 1048.8,2280.0 1049.5,2275.0C1050.2,2270.0 1052.7,2262.8 1057.0,2257.5C1061.3,2252.2 1075.3,2242.0 1082.0,2235.0C1088.7,2228.0 1098.3,2213.7 1107.0,2205.0C1115.7,2196.3 1134.3,2178.7 1147.0,2170.0C1159.7,2161.3 1188.0,2147.0 1202.0,2140.0C1216.0,2133.0 1245.3,2120.5 1252.0,2117.5" fill="none" stroke="#000" stroke-width="2.3"/>
<rect x="-4.0" y="-7.0" width="8" height="14" fill="#8C8C8C" transform="translate(477.2,1031.1) rotate(-20)" stroke="#000" stroke-width="1.8"/>
<rect x="-4.0" y="-7.0" width="8" height="14" fill="#8C8C8C" transform="translate(439.7,1047.0) rotate(15)" stroke="#000" stroke-width="1.8"/>
<rect x="-4.0" y="-7.0" width="8" height="14" fill="#8C8C8C" transform="translate(420.5,1053.8) rotate(15)" stroke="#000" stroke-width="1.8"/>
<rect x="-4.0" y="-7.0" width="8" height="14" fill="#8C8C8C" transform="translate(493.5,1049.8) rotate(20)" stroke="#000" stroke-width="1.8"/>
<rect x="-4.2" y="-1.8" width="8.5" height="3.6" fill="#000" transform="translate(458.8,1047.8) rotate(-30)"/>
<rect x="-4.2" y="-1.8" width="8.5" height="3.6" fill="#000" transform="translate(472.4,1057.4) rotate(30)"/>
<rect x="-4.2" y="-1.8" width="8.5" height="3.6" fill="#000" transform="translate(483.2,1060.3) rotate(30)"/>
<rect x="-4.2" y="-1.8" width="8.5" height="3.6" fill="#000" transform="translate(467.7,1070.6) rotate(30)"/>
<rect x="-5.0" y="-2.0" width="10" height="4" fill="#8C8C8C" transform="translate(453.3,1064.0) rotate(30)" stroke="#000" stroke-width="1.6"/>
<ellipse rx="3.6" ry="1.7" fill="#5CF060" transform="translate(483.7,1022.7) rotate(-20)"/>
<ellipse rx="3.6" ry="1.7" fill="#5CF060" transform="translate(440.9,1033.5) rotate(20)"/>
<ellipse rx="3.6" ry="1.7" fill="#5CF060" transform="translate(465.3,1031.0) rotate(25)"/>
<ellipse rx="3.6" ry="1.7" fill="#5CF060" transform="translate(490.4,1037.8) rotate(25)"/>
<ellipse rx="3.6" ry="1.7" fill="#5CF060" transform="translate(429.4,1042.6) rotate(20)"/>
<ellipse rx="3.6" ry="1.7" fill="#5CF060" transform="translate(466.5,1043.0) rotate(-30)"/>
<ellipse rx="3.6" ry="1.7" fill="#5CF060" transform="translate(482.0,1043.0) rotate(25)"/>
<ellipse rx="3.6" ry="1.7" fill="#5CF060" transform="translate(446.0,1053.8) rotate(-25)"/>
<ellipse rx="3.6" ry="1.7" fill="#5CF060" transform="translate(431.8,1062.2) rotate(20)"/>
<ellipse rx="3.6" ry="1.7" fill="#5CF060" transform="translate(440.9,1064.0) rotate(40)"/>
<ellipse rx="3.6" ry="1.7" fill="#5CF060" transform="translate(458.0,1055.0) rotate(-40)"/>
<ellipse rx="3.6" ry="1.7" fill="#5CF060" transform="translate(466.5,1051.4) rotate(-50)"/>
<ellipse rx="3.6" ry="1.7" fill="#5CF060" transform="translate(496.4,1064.6) rotate(-20)"/>
<ellipse rx="3.6" ry="1.7" fill="#5CF060" transform="translate(462.9,1067.0) rotate(40)"/>
<ellipse rx="3.6" ry="1.7" fill="#5CF060" transform="translate(477.2,1067.5) rotate(-40)"/>
<ellipse rx="3.4" ry="1.7" fill="#8C40F0" transform="translate(486.8,1030.6) rotate(-25)"/>
<ellipse rx="3.4" ry="1.7" fill="#8C40F0" transform="translate(450.4,1047.0) rotate(-25)"/>
<ellipse rx="3.4" ry="1.7" fill="#8C40F0" transform="translate(472.4,1049.0) rotate(-20)"/>
<ellipse rx="3.4" ry="1.7" fill="#8C40F0" transform="translate(481.5,1049.0) rotate(20)"/>
<ellipse rx="3.4" ry="1.7" fill="#8C40F0" transform="translate(462.4,1061.7) rotate(-25)"/>
<ellipse rx="3.4" ry="1.7" fill="#8C40F0" transform="translate(484.9,1068.9) rotate(-20)"/>
<rect x="-4.0" y="-7.0" width="8" height="14" fill="#8C8C8C" transform="translate(603.3,1102.4) rotate(-22)" stroke="#000" stroke-width="1.8"/>
<rect x="-4.0" y="-7.0" width="8" height="14" fill="#8C8C8C" transform="translate(604.0,1141.6) rotate(-22)" stroke="#000" stroke-width="1.8"/>
<rect x="-4.0" y="-7.0" width="8" height="14" fill="#8C8C8C" transform="translate(551.4,1165.0) rotate(-22)" stroke="#000" stroke-width="1.8"/>
<rect x="-4.0" y="-7.0" width="8" height="14" fill="#8C8C8C" transform="translate(621.2,1165.5) rotate(-22)" stroke="#000" stroke-width="1.8"/>
<rect x="-2.8" y="-2.8" width="5.5" height="5.5" fill="#A0A0A0" transform="translate(562.9,1107.0) rotate(0)" stroke="#000" stroke-width="1.7"/>
<rect x="-2.8" y="-2.8" width="5.5" height="5.5" fill="#A0A0A0" transform="translate(578.2,1141.6) rotate(0)" stroke="#000" stroke-width="1.7"/>
<rect x="-2.8" y="-2.8" width="5.5" height="5.5" fill="#A0A0A0" transform="translate(599.7,1172.2) rotate(0)" stroke="#000" stroke-width="1.7"/>
<rect x="-5.0" y="-1.8" width="10" height="3.6" fill="#A0A0A0" transform="translate(573.4,1083.3) rotate(25)" stroke="#000" stroke-width="1.6"/>
<rect x="-5.0" y="-1.8" width="10" height="3.6" fill="#A0A0A0" transform="translate(585.4,1120.0) rotate(25)" stroke="#000" stroke-width="1.6"/>
<rect x="-4.0" y="-1.9" width="8" height="3.8" fill="#000" transform="translate(565.7,1092.0) rotate(30)"/>
<rect x="-4.0" y="-1.9" width="8" height="3.8" fill="#000" transform="translate(549.0,1118.9) rotate(-45)"/>
<rect x="-4.0" y="-1.9" width="8" height="3.8" fill="#000" transform="translate(600.4,1118.0) rotate(25)"/>
<rect x="-4.0" y="-1.9" width="8" height="3.8" fill="#000" transform="translate(572.4,1153.0) rotate(-40)"/>
<rect x="-4.0" y="-1.9" width="8" height="3.8" fill="#000" transform="translate(606.4,1157.9) rotate(25)"/>
<rect x="-4.0" y="-1.9" width="8" height="3.8" fill="#000" transform="translate(605.9,1210.5) rotate(-12)"/>
<rect x="-4.0" y="-1.9" width="8" height="3.8" fill="#000" transform="translate(609.2,1242.6) rotate(-12)"/>
<rect x="-4.0" y="-1.9" width="8" height="3.8" fill="#000" transform="translate(611.0,1260.3) rotate(20)"/>
<rect x="-4.0" y="-1.9" width="8" height="3.8" fill="#000" transform="translate(615.6,1313.8) rotate(20)"/>
<ellipse rx="1.8" ry="3.5" fill="#000" transform="translate(585.6,1082.5) rotate(20)"/>
<ellipse rx="1.8" ry="3.5" fill="#000" transform="translate(583.0,1097.4) rotate(-25)"/>
<ellipse rx="1.8" ry="3.5" fill="#000" transform="translate(550.2,1102.9) rotate(-25)"/>
<ellipse rx="1.8" ry="3.5" fill="#000" transform="translate(593.3,1105.3) rotate(-25)"/>
<ellipse rx="1.8" ry="3.5" fill="#000" transform="translate(612.4,1115.6) rotate(20)"/>
<ellipse rx="1.8" ry="3.5" fill="#000" transform="translate(560.5,1122.0) rotate(-25)"/>
<ellipse rx="1.8" ry="3.5" fill="#000" transform="translate(533.9,1127.5) rotate(-25)"/>
<ellipse rx="1.8" ry="3.5" fill="#000" transform="translate(543.7,1131.0) rotate(20)"/>
<ellipse rx="1.8" ry="3.5" fill="#000" transform="translate(567.4,1138.0) rotate(20)"/>
<ellipse rx="1.8" ry="3.5" fill="#000" transform="translate(588.0,1134.0) rotate(20)"/>
<ellipse rx="1.8" ry="3.5" fill="#000" transform="translate(618.9,1134.4) rotate(20)"/>
<ellipse rx="1.8" ry="3.5" fill="#000" transform="translate(626.3,1143.0) rotate(-25)"/>
<ellipse rx="1.8" ry="3.5" fill="#000" transform="translate(553.8,1153.0) rotate(-25)"/>
<ellipse rx="1.8" ry="3.5" fill="#000" transform="translate(629.9,1152.4) rotate(-25)"/>
<ellipse rx="1.8" ry="3.5" fill="#000" transform="translate(580.0,1162.7) rotate(-25)"/>
<ellipse rx="1.8" ry="3.5" fill="#000" transform="translate(592.5,1160.8) rotate(-25)"/>
<ellipse rx="1.8" ry="3.5" fill="#000" transform="translate(545.4,1157.9) rotate(-25)"/>
<ellipse rx="1.8" ry="3.5" fill="#000" transform="translate(576.5,1181.8) rotate(20)"/>
<ellipse rx="1.8" ry="3.5" fill="#000" transform="translate(616.0,1182.3) rotate(-25)"/>
<ellipse rx="2.3" ry="4.2" fill="#3A30F4" transform="translate(571.0,1109.6) rotate(-32)"/>
<ellipse rx="2.3" ry="4.2" fill="#3A30F4" transform="translate(586.8,1112.0) rotate(-32)"/>
<ellipse rx="2.3" ry="4.2" fill="#3A30F4" transform="translate(620.8,1122.5) rotate(-32)"/>
<ellipse rx="2.3" ry="4.2" fill="#3A30F4" transform="translate(573.4,1124.9) rotate(-32)"/>
<ellipse rx="2.3" ry="4.2" fill="#3A30F4" transform="translate(594.4,1128.0) rotate(-32)"/>
<ellipse rx="2.3" ry="4.2" fill="#3A30F4" transform="translate(610.0,1128.5) rotate(-32)"/>
<ellipse rx="2.3" ry="4.2" fill="#3A30F4" transform="translate(555.7,1135.2) rotate(-32)"/>
<ellipse rx="2.3" ry="4.2" fill="#3A30F4" transform="translate(629.1,1136.8) rotate(-32)"/>
<ellipse rx="2.3" ry="4.2" fill="#3A30F4" transform="translate(546.1,1144.7) rotate(-32)"/>
<ellipse rx="2.3" ry="4.2" fill="#3A30F4" transform="translate(562.2,1148.3) rotate(-32)"/>
<ellipse rx="2.3" ry="4.2" fill="#3A30F4" transform="translate(589.7,1148.3) rotate(-32)"/>
<ellipse rx="2.3" ry="4.2" fill="#3A30F4" transform="translate(617.2,1144.7) rotate(-32)"/>
<ellipse rx="2.3" ry="4.2" fill="#3A30F4" transform="translate(566.2,1163.9) rotate(-32)"/>
<ellipse rx="2.3" ry="4.2" fill="#3A30F4" transform="translate(606.4,1168.7) rotate(-32)"/>
<ellipse rx="2.3" ry="4.2" fill="#3A30F4" transform="translate(566.9,1180.6) rotate(-32)"/>
<ellipse rx="2.3" ry="4.2" fill="#3A30F4" transform="translate(586.0,1177.0) rotate(-32)"/>
<ellipse rx="2.3" ry="4.2" fill="#3A30F4" transform="translate(603.5,1184.7) rotate(-32)"/>
<ellipse rx="2.3" ry="4.2" fill="#3A30F4" transform="translate(601.1,1196.2) rotate(-32)"/>
<ellipse rx="2.3" ry="4.2" fill="#3A30F4" transform="translate(606.4,1218.5) rotate(-32)"/>
<ellipse rx="2.3" ry="4.2" fill="#3A30F4" transform="translate(608.1,1233.5) rotate(-32)"/>
<ellipse rx="2.3" ry="4.2" fill="#3A30F4" transform="translate(609.1,1249.4) rotate(-32)"/>
<ellipse rx="2.3" ry="4.2" fill="#3A30F4" transform="translate(611.8,1265.9) rotate(-32)"/>
<ellipse rx="2.3" ry="4.2" fill="#3A30F4" transform="translate(613.8,1285.0) rotate(-32)"/>
<ellipse rx="2.3" ry="4.2" fill="#3A30F4" transform="translate(617.4,1334.0) rotate(-32)"/>
<text y="92" font-size="71" stroke-width="2.6" font-family="Liberation Sans, Arial, sans-serif" font-weight="bold" fill="#000" stroke="#000" stroke-linejoin="miter"><tspan x="89" textLength="177.4" lengthAdjust="spacingAndGlyphs">Main</tspan> <tspan x="288.5" textLength="234.2" lengthAdjust="spacingAndGlyphs">Target</tspan> <tspan x="546.3" textLength="71.6" lengthAdjust="spacingAndGlyphs">of</tspan> <tspan x="646" textLength="179.2" lengthAdjust="spacingAndGlyphs">Work</tspan> <tspan x="851.6" textLength="354.9" lengthAdjust="spacingAndGlyphs">Packages</tspan></text>
<text x="809" y="447" font-size="67.5" textLength="156.8" lengthAdjust="spacingAndGlyphs" stroke-width="2.6" font-family="Liberation Sans, Arial, sans-serif" font-weight="bold" fill="#000" stroke="#000" stroke-linejoin="miter">WP5</text>
<text x="579.8" y="988.2" font-size="67.5" textLength="157" lengthAdjust="spacingAndGlyphs" stroke-width="2.6" font-family="Liberation Sans, Arial, sans-serif" font-weight="bold" fill="#000" stroke="#000" stroke-linejoin="miter">WP4</text>
<text x="984" y="1210.4" font-size="67.5" textLength="159.4" lengthAdjust="spacingAndGlyphs" stroke-width="2.6" font-family="Liberation Sans, Arial, sans-serif" font-weight="bold" fill="#000" stroke="#000" stroke-linejoin="miter">WP2</text>
<text x="984" y="1379.3" font-size="67.5" textLength="159.6" lengthAdjust="spacingAndGlyphs" stroke-width="2.6" font-family="Liberation Sans, Arial, sans-serif" font-weight="bold" fill="#000" stroke="#000" stroke-linejoin="miter">WP3</text>
<text x="789" y="2077" font-size="67.5" textLength="147.8" lengthAdjust="spacingAndGlyphs" stroke-width="2.6" font-family="Liberation Sans, Arial, sans-serif" font-weight="bold" fill="#000" stroke="#000" stroke-linejoin="miter">WP1</text>
<rect x="2" y="2" width="1251" height="2445.3" fill="none" stroke="#000" stroke-width="2.2"/>
</svg></body></html>
